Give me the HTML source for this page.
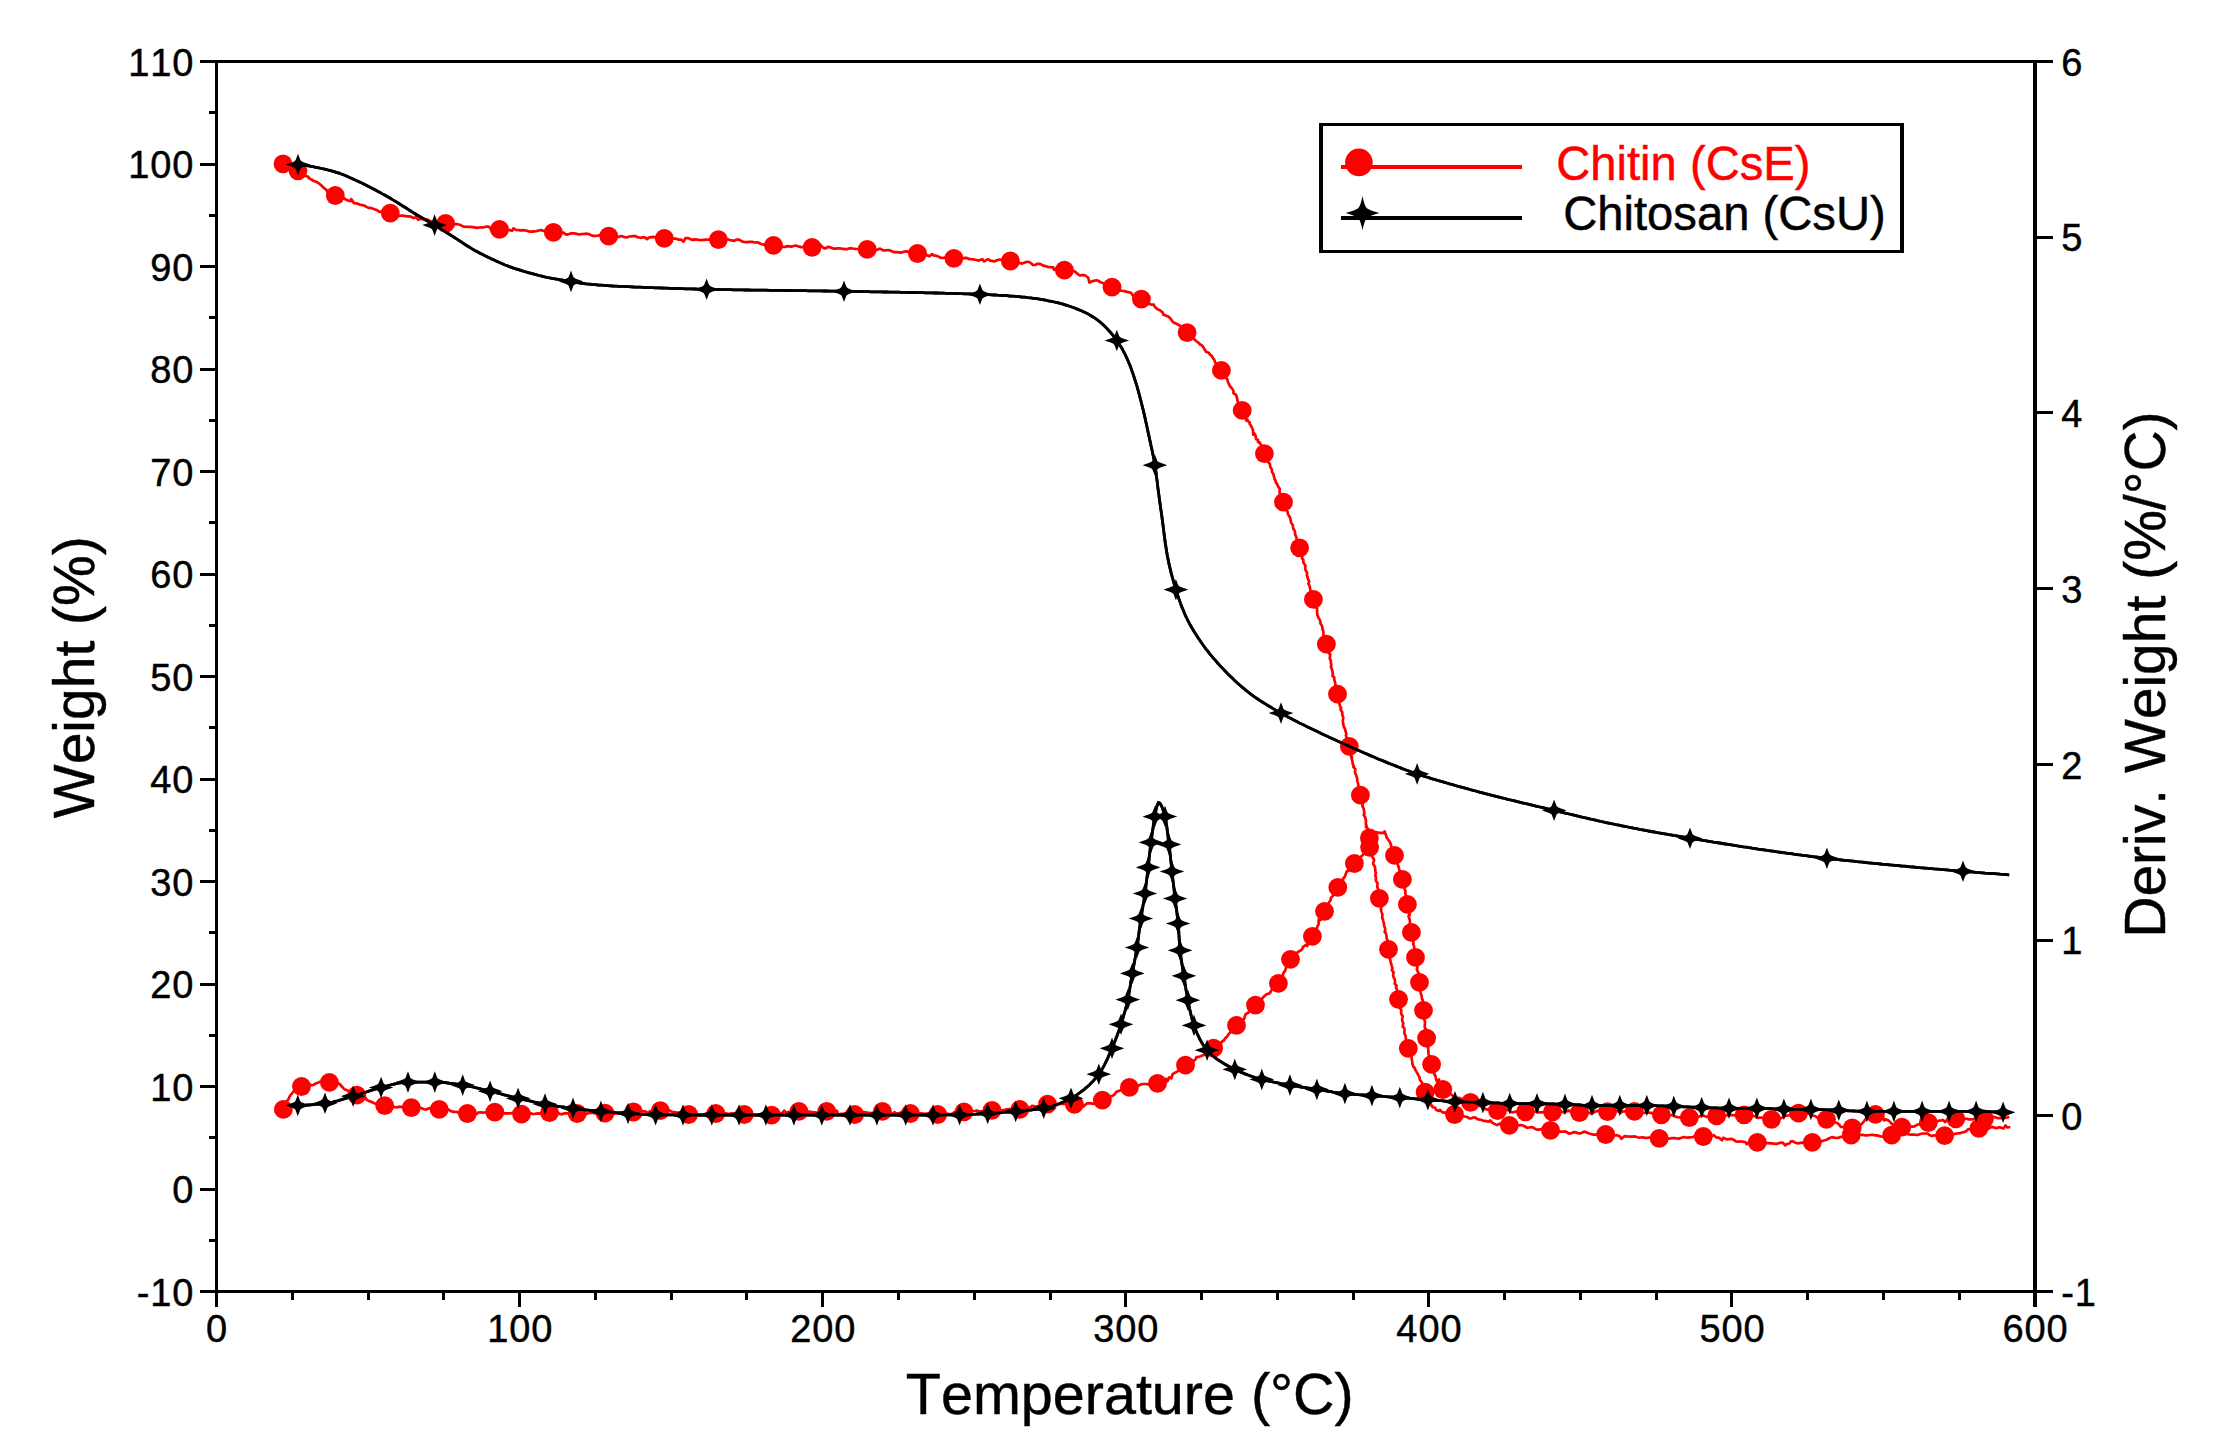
<!DOCTYPE html>
<html lang="en"><head><meta charset="utf-8"><title>TGA / DTG: Chitin and Chitosan</title>
<style>html,body{margin:0;padding:0;background:#fff}svg{display:block}text{font-family:"Liberation Sans",Arial,Helvetica,sans-serif;fill:#000;stroke:#000;stroke-width:0.45px;font-kerning:none}.tk{font-size:38px;letter-spacing:0.9px}.ti{font-size:57px}.lg{font-size:47.2px}</style></head><body>
<svg width="2222" height="1451" viewBox="0 0 2222 1451">
<rect width="2222" height="1451" fill="#fff"/>
<defs>
<path id="st" d="M0-10.8L1.4-7 2.5-4.2 3.9-3.1 6.2-2.1 9.2-1.1 12.3 0 9.2 1.1 6.2 2.1 3.9 3.1 2.5 4.2 1.4 7 0 10.8-1.4 7-2.5 4.2-3.9 3.1-6.2 2.1-9.2 1.1-12.3 0-9.2-1.1-6.2-2.1-3.9-3.1-2.5-4.2-1.4-7Z"/>
</defs>
<g fill="none" stroke-linejoin="round" stroke-linecap="butt">
<path d="M298.0 164.5L301.0 164.9L304.0 165.3L306.9 165.7L309.9 166.2L312.9 166.7L315.8 167.3L318.8 167.9L321.7 168.5L324.6 169.1L327.6 169.9L330.5 170.6L333.4 171.4L336.3 172.3L339.1 173.2L341.9 174.2L344.7 175.3L347.5 176.5L350.2 177.7L353.0 179.0L355.7 180.2L358.4 181.5L361.2 182.8L363.9 184.1L366.6 185.4L369.2 186.8L371.9 188.2L374.6 189.6L377.2 191.0L379.9 192.4L382.5 193.9L385.1 195.3L387.7 196.8L390.3 198.3L392.9 199.9L395.5 201.4L398.1 203.0L400.6 204.6L403.1 206.2L405.7 207.8L408.2 209.4L410.7 211.0L413.3 212.6L415.8 214.2L418.4 215.7L421.0 217.2L423.6 218.7L426.2 220.2L428.9 221.7L431.4 223.2L434.0 224.8L436.6 226.3L439.2 227.9L441.7 229.5L444.3 231.1L446.8 232.7L449.3 234.3L451.9 235.9L454.4 237.5L457.0 239.1L459.5 240.8L462.0 242.4L464.5 244.1L467.0 245.7L469.6 247.3L472.1 248.9L474.7 250.4L477.4 251.8L480.0 253.2L482.7 254.6L485.4 256.0L488.1 257.3L490.8 258.6L493.5 259.8L496.2 261.1L499.0 262.3L501.8 263.5L504.5 264.7L507.3 265.8L510.1 266.9L512.9 267.9L515.8 268.8L518.6 269.7L521.5 270.6L524.4 271.5L527.3 272.3L530.2 273.1L533.1 273.9L536.0 274.7L538.9 275.5L541.8 276.2L544.7 276.9L547.7 277.5L550.6 278.1L553.6 278.7L556.5 279.2L559.5 279.7L562.5 280.2L565.4 280.7L568.4 281.2L571.4 281.7L574.3 282.1L577.3 282.6L580.3 283.1L583.3 283.5L586.2 283.9L589.2 284.2L592.2 284.5L595.2 284.7L598.2 285.0L601.2 285.2L604.2 285.4L607.2 285.6L610.2 285.8L613.2 286.0L616.2 286.1L619.2 286.3L622.2 286.4L625.2 286.6L628.2 286.7L631.2 286.8L634.2 287.0L637.2 287.1L640.2 287.2L643.2 287.4L646.2 287.5L649.2 287.6L652.2 287.7L655.2 287.8L658.2 287.9L661.2 288.0L664.2 288.1L667.2 288.2L670.2 288.3L673.2 288.4L676.2 288.5L679.2 288.6L682.3 288.7L685.3 288.8L688.3 288.9L691.3 288.9L694.3 289.0L697.3 289.1L700.3 289.2L703.3 289.2L706.3 289.3L709.3 289.4L712.3 289.4L715.3 289.5L718.3 289.5L721.3 289.6L724.3 289.6L727.3 289.7L730.3 289.7L733.3 289.8L736.3 289.8L739.3 289.9L742.3 289.9L745.3 290.0L748.3 290.0L751.4 290.1L754.4 290.1L757.4 290.1L760.4 290.2L763.4 290.2L766.4 290.2L769.4 290.3L772.4 290.3L775.4 290.4L778.4 290.4L781.4 290.4L784.4 290.5L787.4 290.5L790.4 290.5L793.4 290.6L796.4 290.6L799.4 290.7L802.4 290.7L805.4 290.7L808.4 290.8L811.4 290.8L814.5 290.8L817.5 290.9L820.5 290.9L823.5 291.0L826.5 291.0L829.5 291.1L832.5 291.1L835.5 291.2L838.5 291.2L841.5 291.3L844.5 291.3L847.5 291.4L850.5 291.4L853.5 291.5L856.5 291.5L859.5 291.6L862.5 291.6L865.5 291.7L868.5 291.7L871.5 291.8L874.6 291.8L877.6 291.9L880.6 291.9L883.6 292.0L886.6 292.0L889.6 292.1L892.6 292.1L895.6 292.2L898.6 292.2L901.6 292.3L904.6 292.3L907.6 292.4L910.6 292.5L913.6 292.5L916.6 292.6L919.6 292.6L922.6 292.7L925.6 292.8L928.6 292.8L931.6 292.9L934.7 293.0L937.7 293.0L940.7 293.1L943.7 293.2L946.7 293.3L949.7 293.4L952.7 293.4L955.7 293.5L958.7 293.6L961.7 293.7L964.7 293.8L967.7 293.9L970.7 294.0L973.7 294.1L976.7 294.2L979.7 294.3L982.7 294.4L985.7 294.5L988.7 294.7L991.7 294.8L994.7 295.0L997.7 295.2L1000.7 295.3L1003.7 295.5L1006.7 295.7L1009.7 296.0L1012.7 296.2L1015.7 296.4L1018.7 296.7L1021.7 297.0L1024.7 297.2L1027.7 297.6L1030.6 297.9L1033.6 298.3L1036.6 298.7L1039.6 299.2L1042.6 299.7L1045.5 300.2L1048.5 300.8L1051.4 301.3L1054.3 302.0L1057.3 302.7L1060.2 303.4L1063.1 304.2L1066.0 305.1L1068.9 306.0L1071.7 307.0L1074.6 308.0L1077.3 309.1L1080.1 310.2L1082.9 311.4L1085.6 312.7L1088.3 314.1L1091.0 315.7L1093.5 317.2L1096.0 318.9L1098.3 320.6L1100.6 322.5L1102.9 324.5L1105.0 326.6L1107.2 328.8L1109.2 331.0L1111.3 333.3L1113.2 335.7L1115.0 338.1L1116.8 340.5L1118.5 342.9L1120.1 345.4L1121.7 348.0L1123.1 350.7L1124.6 353.4L1125.9 356.1L1127.2 358.8L1128.3 361.5L1129.5 364.3L1130.6 367.1L1131.6 369.9L1132.6 372.8L1133.6 375.6L1134.5 378.5L1135.4 381.3L1136.3 384.2L1137.2 387.1L1138.0 390.0L1138.8 392.9L1139.6 395.8L1140.3 398.7L1141.1 401.6L1141.8 404.5L1142.5 407.4L1143.3 410.4L1144.0 413.3L1144.6 416.2L1145.3 419.1L1145.9 422.1L1146.6 425.0L1147.2 428.0L1147.8 430.9L1148.5 433.8L1149.1 436.8L1149.7 439.7L1150.4 442.6L1151.0 445.6L1151.7 448.5L1152.3 451.5L1152.9 454.4L1153.5 457.3L1154.1 460.3L1154.6 463.3L1155.1 466.2L1155.5 469.2L1156.0 472.2L1156.4 475.1L1156.7 478.1L1157.1 481.1L1157.5 484.1L1157.8 487.1L1158.2 490.0L1158.6 493.0L1159.0 496.0L1159.4 499.0L1159.8 502.0L1160.2 504.9L1160.6 507.9L1161.1 510.9L1161.5 513.9L1161.9 516.8L1162.3 519.8L1162.7 522.8L1163.1 525.8L1163.5 528.8L1163.8 531.7L1164.2 534.7L1164.6 537.7L1165.0 540.7L1165.4 543.7L1165.9 546.6L1166.3 549.6L1166.8 552.6L1167.3 555.5L1167.9 558.5L1168.5 561.4L1169.1 564.4L1169.8 567.3L1170.5 570.2L1171.2 573.1L1172.0 576.1L1172.8 579.0L1173.6 581.9L1174.4 584.7L1175.3 587.6L1176.1 590.5L1177.0 593.3L1178.0 596.2L1179.0 599.1L1180.0 601.9L1181.0 604.7L1182.1 607.6L1183.3 610.3L1184.4 613.1L1185.6 615.8L1186.9 618.5L1188.2 621.2L1189.6 623.9L1191.1 626.5L1192.6 629.1L1194.2 631.7L1195.8 634.3L1197.4 636.8L1199.1 639.3L1200.8 641.8L1202.5 644.2L1204.3 646.7L1206.0 649.1L1207.9 651.4L1209.7 653.8L1211.7 656.1L1213.6 658.4L1215.6 660.7L1217.6 663.0L1219.6 665.2L1221.7 667.4L1223.7 669.6L1225.8 671.7L1227.9 673.9L1230.0 676.0L1232.2 678.1L1234.4 680.2L1236.6 682.2L1238.8 684.3L1241.1 686.3L1243.4 688.2L1245.7 690.1L1248.1 692.0L1250.4 693.8L1252.8 695.6L1255.2 697.3L1257.7 699.0L1260.2 700.7L1262.7 702.3L1265.3 703.9L1267.9 705.5L1270.5 707.0L1273.1 708.6L1275.7 710.1L1278.3 711.6L1280.9 713.1L1283.5 714.5L1286.2 716.0L1288.8 717.4L1291.5 718.8L1294.1 720.2L1296.8 721.5L1299.5 722.9L1302.2 724.2L1304.9 725.6L1307.6 726.9L1310.3 728.2L1313.0 729.5L1315.7 730.8L1318.4 732.1L1321.1 733.4L1323.8 734.7L1326.6 736.0L1329.3 737.2L1332.0 738.5L1334.8 739.7L1337.5 741.0L1340.2 742.2L1343.0 743.5L1345.7 744.7L1348.5 745.9L1351.2 747.1L1353.9 748.4L1356.7 749.6L1359.4 750.8L1362.2 752.0L1364.9 753.2L1367.7 754.4L1370.4 755.6L1373.2 756.8L1376.0 758.0L1378.7 759.2L1381.5 760.3L1384.3 761.4L1387.1 762.6L1389.9 763.7L1392.7 764.8L1395.5 765.9L1398.3 767.0L1401.1 768.1L1403.9 769.2L1406.7 770.2L1409.5 771.3L1412.3 772.3L1415.2 773.3L1418.0 774.2L1420.9 775.1L1423.7 776.1L1426.6 777.0L1429.5 777.9L1432.3 778.8L1435.2 779.6L1438.1 780.5L1441.0 781.4L1443.8 782.2L1446.7 783.0L1449.6 783.9L1452.5 784.7L1455.4 785.5L1458.3 786.3L1461.2 787.1L1464.1 787.9L1467.0 788.7L1469.9 789.5L1472.8 790.3L1475.7 791.0L1478.6 791.8L1481.5 792.6L1484.4 793.4L1487.3 794.1L1490.2 794.9L1493.2 795.6L1496.1 796.4L1499.0 797.1L1501.9 797.8L1504.8 798.5L1507.7 799.3L1510.6 800.0L1513.6 800.7L1516.5 801.4L1519.4 802.1L1522.3 802.8L1525.3 803.5L1528.2 804.2L1531.1 804.9L1534.0 805.6L1536.9 806.3L1539.9 807.0L1542.8 807.7L1545.7 808.4L1548.6 809.1L1551.6 809.8L1554.5 810.5L1557.4 811.2L1560.3 811.9L1563.3 812.6L1566.2 813.3L1569.1 814.0L1572.0 814.7L1575.0 815.4L1577.9 816.1L1580.8 816.8L1583.7 817.5L1586.6 818.2L1589.6 818.9L1592.5 819.5L1595.4 820.2L1598.4 820.9L1601.3 821.5L1604.2 822.2L1607.2 822.8L1610.1 823.4L1613.0 824.0L1616.0 824.7L1618.9 825.2L1621.9 825.8L1624.8 826.4L1627.8 827.0L1630.7 827.6L1633.7 828.2L1636.6 828.7L1639.6 829.3L1642.5 829.8L1645.5 830.4L1648.4 831.0L1651.4 831.5L1654.3 832.0L1657.3 832.6L1660.3 833.1L1663.2 833.6L1666.2 834.1L1669.1 834.7L1672.1 835.2L1675.1 835.7L1678.0 836.2L1681.0 836.7L1684.0 837.2L1686.9 837.7L1689.9 838.2L1692.8 838.7L1695.8 839.2L1698.8 839.6L1701.7 840.1L1704.7 840.6L1707.7 841.1L1710.6 841.6L1713.6 842.1L1716.6 842.5L1719.5 843.0L1722.5 843.5L1725.5 844.0L1728.4 844.4L1731.4 844.9L1734.4 845.4L1737.4 845.9L1740.3 846.3L1743.3 846.8L1746.3 847.2L1749.2 847.7L1752.2 848.2L1755.2 848.6L1758.2 849.1L1761.1 849.5L1764.1 849.9L1767.1 850.4L1770.1 850.8L1773.0 851.2L1776.0 851.7L1779.0 852.1L1782.0 852.5L1784.9 852.9L1787.9 853.3L1790.9 853.7L1793.9 854.2L1796.8 854.6L1799.8 854.9L1802.8 855.3L1805.8 855.7L1808.8 856.1L1811.7 856.5L1814.7 856.8L1817.7 857.2L1820.7 857.6L1823.7 857.9L1826.6 858.3L1829.6 858.6L1832.6 859.0L1835.6 859.3L1838.6 859.6L1841.6 860.0L1844.6 860.3L1847.5 860.6L1850.5 860.9L1853.5 861.2L1856.5 861.6L1859.5 861.9L1862.5 862.2L1865.5 862.5L1868.5 862.8L1871.4 863.1L1874.4 863.4L1877.4 863.7L1880.4 864.0L1883.4 864.3L1886.4 864.5L1889.4 864.8L1892.4 865.1L1895.4 865.4L1898.4 865.7L1901.4 866.0L1904.4 866.2L1907.4 866.5L1910.3 866.8L1913.3 867.0L1916.3 867.3L1919.3 867.6L1922.3 867.8L1925.3 868.1L1928.3 868.4L1931.3 868.6L1934.3 868.9L1937.3 869.1L1940.3 869.4L1943.3 869.6L1946.3 869.9L1949.3 870.2L1952.3 870.4L1955.3 870.7L1958.3 870.9L1961.3 871.2L1964.3 871.4L1967.2 871.6L1970.2 871.9L1973.2 872.1L1976.2 872.4L1979.2 872.6L1982.2 872.8L1985.2 873.1L1988.2 873.3L1991.2 873.5L1994.2 873.7L1997.2 873.9L2000.2 874.2L2003.2 874.4L2006.2 874.6L2009.2 874.8" stroke="#000" stroke-width="2.8"/>
<path d="M297.8 1105.4L300.3 1105.4L302.8 1105.3L305.4 1105.2L307.9 1105.0L310.4 1104.8L312.9 1104.6L315.4 1104.4L317.9 1104.1L320.3 1103.8L322.8 1103.6L325.3 1103.3L327.7 1102.9L330.2 1102.5L332.6 1102.0L335.1 1101.4L337.5 1100.8L339.9 1100.1L342.3 1099.4L344.8 1098.7L347.2 1097.9L349.6 1097.2L352.0 1096.5L354.4 1095.8L356.8 1095.1L359.2 1094.4L361.6 1093.6L364.0 1092.8L366.3 1092.0L368.7 1091.2L371.1 1090.4L373.5 1089.6L375.9 1088.9L378.3 1088.2L380.7 1087.6L383.1 1087.0L385.6 1086.3L388.0 1085.7L390.4 1085.0L392.9 1084.4L395.4 1083.8L397.8 1083.2L400.3 1082.8L402.8 1082.4L405.2 1082.2L407.7 1082.1L410.2 1082.1L412.7 1082.1L415.2 1082.1L417.7 1082.1L420.2 1082.1L422.7 1082.1L425.2 1082.1L427.7 1082.1L430.2 1082.1L432.8 1082.1L435.3 1082.1L437.8 1082.2L440.3 1082.3L442.8 1082.5L445.2 1082.7L447.7 1083.0L450.2 1083.3L452.7 1083.6L455.2 1084.0L457.7 1084.4L460.2 1084.7L462.7 1085.1L465.1 1085.5L467.6 1085.9L470.0 1086.4L472.5 1086.9L474.9 1087.5L477.4 1088.1L479.8 1088.7L482.2 1089.3L484.7 1089.9L487.1 1090.5L489.5 1091.1L492.0 1091.7L494.4 1092.3L496.8 1092.9L499.3 1093.5L501.7 1094.1L504.1 1094.8L506.5 1095.4L509.0 1096.0L511.4 1096.7L513.8 1097.3L516.3 1097.9L518.7 1098.4L521.1 1099.0L523.6 1099.6L526.0 1100.1L528.5 1100.7L530.9 1101.2L533.4 1101.8L535.8 1102.3L538.3 1102.8L540.7 1103.3L543.2 1103.8L545.6 1104.2L548.1 1104.6L550.6 1105.1L553.0 1105.5L555.5 1105.9L558.0 1106.3L560.5 1106.7L562.9 1107.0L565.4 1107.4L567.9 1107.7L570.4 1108.1L572.9 1108.4L575.4 1108.7L577.8 1109.0L580.3 1109.3L582.8 1109.6L585.3 1109.8L587.8 1110.1L590.3 1110.4L592.8 1110.6L595.3 1110.9L597.8 1111.1L600.3 1111.3L602.8 1111.6L605.3 1111.8L607.8 1112.0L610.2 1112.2L612.7 1112.4L615.2 1112.6L617.7 1112.8L620.2 1113.0L622.7 1113.2L625.2 1113.3L627.7 1113.5L630.2 1113.6L632.7 1113.8L635.2 1113.9L637.7 1114.0L640.2 1114.2L642.7 1114.3L645.2 1114.4L647.8 1114.5L650.3 1114.6L652.8 1114.6L655.3 1114.7L657.8 1114.7L660.3 1114.8L662.8 1114.8L665.3 1114.9L667.8 1114.9L670.3 1114.9L672.8 1114.9L675.3 1115.0L677.8 1115.0L680.3 1115.0L682.8 1115.0L685.3 1115.0L687.8 1115.0L690.3 1115.0L692.8 1115.0L695.3 1115.0L697.8 1115.0L700.4 1115.0L702.9 1115.0L705.4 1115.0L707.9 1115.0L710.4 1115.0L712.9 1115.0L715.4 1115.0L717.9 1115.0L720.4 1115.0L722.9 1115.0L725.4 1115.0L727.9 1115.0L730.4 1115.0L732.9 1115.0L735.4 1115.0L737.9 1115.0L740.4 1115.0L742.9 1115.0L745.4 1115.0L747.9 1115.0L750.5 1115.0L753.0 1115.0L755.5 1115.0L758.0 1115.0L760.5 1115.0L763.0 1115.0L765.5 1115.0L768.0 1115.0L770.5 1115.0L773.0 1115.0L775.5 1115.0L778.0 1115.0L780.5 1115.0L783.0 1115.0L785.5 1115.0L788.0 1115.0L790.5 1115.0L793.0 1115.0L795.5 1115.0L798.0 1115.0L800.5 1115.0L803.1 1115.0L805.6 1115.0L808.1 1115.0L810.6 1115.0L813.1 1115.0L815.6 1115.0L818.1 1115.0L820.6 1115.0L823.1 1115.0L825.6 1115.0L828.1 1115.0L830.6 1115.0L833.1 1115.0L835.6 1115.0L838.1 1115.0L840.6 1115.0L843.1 1115.0L845.6 1115.0L848.1 1115.0L850.6 1115.0L853.2 1115.0L855.7 1115.0L858.2 1115.0L860.7 1115.0L863.2 1115.0L865.7 1115.0L868.2 1115.0L870.7 1115.0L873.2 1115.0L875.7 1115.0L878.2 1115.0L880.7 1115.0L883.2 1115.0L885.7 1115.0L888.2 1115.0L890.7 1115.0L893.2 1115.0L895.7 1115.0L898.2 1115.0L900.7 1115.0L903.3 1115.0L905.8 1115.0L908.3 1115.0L910.8 1115.0L913.3 1115.0L915.8 1115.0L918.3 1115.0L920.8 1115.0L923.3 1115.0L925.8 1115.0L928.3 1115.0L930.8 1115.0L933.3 1115.0L935.8 1115.0L938.3 1115.0L940.8 1115.0L943.3 1115.0L945.8 1114.9L948.3 1114.9L950.8 1114.9L953.4 1114.9L955.9 1114.8L958.4 1114.8L960.9 1114.8L963.4 1114.7L965.9 1114.6L968.4 1114.6L970.9 1114.4L973.4 1114.3L975.9 1114.2L978.4 1114.0L980.9 1113.9L983.4 1113.8L985.9 1113.6L988.4 1113.5L990.9 1113.3L993.4 1113.2L995.9 1113.0L998.4 1112.8L1000.9 1112.6L1003.4 1112.4L1005.9 1112.2L1008.4 1112.0L1010.9 1111.8L1013.4 1111.6L1015.9 1111.4L1018.4 1111.2L1020.9 1110.9L1023.4 1110.7L1025.9 1110.5L1028.4 1110.2L1030.9 1110.0L1033.4 1109.7L1035.9 1109.4L1038.4 1109.0L1040.8 1108.7L1043.3 1108.3L1045.7 1107.8L1048.1 1107.3L1050.6 1106.6L1053.0 1105.9L1055.4 1105.1L1057.8 1104.2L1060.2 1103.3L1062.6 1102.3L1064.9 1101.3L1067.1 1100.2L1069.3 1099.2L1071.5 1098.1L1073.6 1096.9L1075.7 1095.6L1077.8 1094.2L1079.9 1092.7L1081.9 1091.2L1084.0 1089.6L1085.9 1087.9L1087.9 1086.2L1089.8 1084.4L1091.6 1082.6L1093.4 1080.7L1095.0 1078.9L1096.6 1077.0L1098.1 1075.1L1099.5 1073.2L1100.9 1071.2L1102.2 1069.1L1103.4 1066.9L1104.6 1064.7L1105.7 1062.4L1106.8 1060.1L1107.9 1057.8L1108.9 1055.4L1109.9 1053.1L1110.9 1050.8L1111.9 1048.5L1112.9 1046.2L1113.9 1043.9L1114.8 1041.5L1115.7 1039.2L1116.6 1036.9L1117.5 1034.5L1118.4 1032.1L1119.2 1029.8L1120.0 1027.4L1120.8 1025.0L1121.5 1022.6L1122.3 1020.2L1123.0 1017.9L1123.7 1015.4L1124.4 1013.0L1125.1 1010.6L1125.7 1008.2L1126.4 1005.8L1127.0 1003.3L1127.5 1000.9L1128.0 998.5L1128.5 996.0L1129.0 993.5L1129.4 991.1L1129.8 988.6L1130.2 986.1L1130.6 983.7L1131.0 981.2L1131.4 978.7L1131.8 976.2L1132.2 973.8L1132.7 971.3L1133.1 968.8L1133.6 966.4L1134.1 963.9L1134.5 961.4L1135.0 959.0L1135.5 956.5L1135.9 954.0L1136.3 951.6L1136.7 949.1L1137.1 946.6L1137.5 944.2L1137.8 941.7L1138.2 939.2L1138.5 936.7L1138.8 934.2L1139.1 931.7L1139.4 929.3L1139.8 926.8L1140.1 924.3L1140.4 921.8L1140.8 919.3L1141.2 916.8L1141.5 914.4L1142.0 911.9L1142.4 909.4L1142.8 907.0L1143.2 904.5L1143.7 902.0L1144.1 899.6L1144.5 897.1L1144.8 894.6L1145.2 892.1L1145.5 889.6L1145.8 887.2L1146.1 884.7L1146.4 882.2L1146.7 879.7L1147.0 877.2L1147.3 874.7L1147.5 872.2L1147.8 869.7L1148.1 867.2L1148.4 864.8L1148.7 862.3L1149.0 859.8L1149.2 857.3L1149.5 854.8L1149.8 852.3L1150.1 849.8L1150.4 847.3L1150.7 844.8L1151.0 842.4L1151.3 839.9L1151.7 837.4L1152.0 834.9L1152.3 832.4L1152.7 830.0L1153.1 827.5L1153.4 825.0L1153.8 822.5L1154.2 820.0L1154.6 817.6L1155.1 815.1L1155.5 812.6L1156.0 810.1L1156.5 807.7L1157.2 805.3L1158.4 802.6L1159.9 803.1L1161.3 805.5L1162.3 807.8L1163.2 810.2L1164.0 812.6L1164.7 815.0L1165.2 817.5L1165.7 819.9L1166.1 822.3L1166.5 824.8L1166.9 827.3L1167.2 829.8L1167.5 832.3L1167.9 834.8L1168.1 837.3L1168.4 839.8L1168.7 842.3L1169.0 844.8L1169.3 847.2L1169.6 849.7L1169.9 852.2L1170.2 854.7L1170.5 857.2L1170.7 859.7L1171.0 862.2L1171.3 864.7L1171.5 867.2L1171.8 869.7L1172.1 872.1L1172.4 874.6L1172.6 877.1L1172.9 879.6L1173.2 882.1L1173.5 884.6L1173.8 887.1L1174.1 889.6L1174.3 892.1L1174.6 894.5L1174.9 897.0L1175.2 899.5L1175.5 902.0L1175.8 904.5L1176.2 907.0L1176.5 909.5L1176.8 911.9L1177.1 914.4L1177.4 916.9L1177.7 919.4L1177.9 921.9L1178.2 924.4L1178.4 926.9L1178.6 929.4L1178.8 931.9L1178.9 934.4L1179.1 936.9L1179.2 939.4L1179.4 941.9L1179.6 944.4L1179.8 946.9L1180.0 949.4L1180.3 951.9L1180.6 954.3L1180.9 956.8L1181.2 959.3L1181.6 961.8L1182.0 964.3L1182.4 966.7L1182.8 969.2L1183.2 971.7L1183.6 974.2L1184.0 976.6L1184.4 979.1L1184.8 981.6L1185.2 984.1L1185.6 986.5L1185.9 989.0L1186.3 991.5L1186.8 994.0L1187.2 996.4L1187.6 998.9L1188.1 1001.3L1188.6 1003.8L1189.1 1006.3L1189.6 1008.8L1190.2 1011.2L1190.7 1013.7L1191.3 1016.1L1191.9 1018.6L1192.6 1021.0L1193.3 1023.3L1194.1 1025.7L1194.9 1028.0L1195.8 1030.4L1196.8 1032.8L1197.9 1035.1L1199.0 1037.5L1200.2 1039.8L1201.4 1042.0L1202.8 1044.2L1204.1 1046.3L1205.5 1048.2L1207.0 1050.1L1208.5 1051.8L1210.2 1053.5L1212.0 1055.1L1213.9 1056.7L1215.9 1058.3L1218.0 1059.8L1220.2 1061.2L1222.4 1062.6L1224.6 1064.0L1226.9 1065.3L1229.1 1066.5L1231.4 1067.7L1233.6 1068.8L1235.8 1069.9L1238.1 1070.9L1240.3 1072.0L1242.6 1072.9L1245.0 1073.9L1247.3 1074.8L1249.7 1075.7L1252.1 1076.5L1254.5 1077.3L1256.9 1078.0L1259.3 1078.7L1261.7 1079.4L1264.1 1080.0L1266.6 1080.6L1269.0 1081.1L1271.4 1081.7L1273.9 1082.2L1276.4 1082.6L1278.8 1083.1L1281.3 1083.6L1283.8 1084.0L1286.3 1084.5L1288.7 1084.9L1291.2 1085.3L1293.7 1085.8L1296.1 1086.2L1298.6 1086.6L1301.1 1087.0L1303.5 1087.4L1306.0 1087.7L1308.5 1088.1L1311.0 1088.5L1313.5 1088.9L1315.9 1089.3L1318.4 1089.6L1320.9 1090.0L1323.4 1090.4L1325.8 1090.9L1328.3 1091.3L1330.8 1091.7L1333.3 1092.1L1335.7 1092.4L1338.2 1092.8L1340.7 1093.1L1343.2 1093.4L1345.7 1093.7L1348.2 1093.9L1350.6 1094.1L1353.1 1094.3L1355.6 1094.5L1358.1 1094.7L1360.6 1094.8L1363.1 1095.0L1365.6 1095.2L1368.1 1095.3L1370.6 1095.5L1373.1 1095.7L1375.6 1095.9L1378.1 1096.1L1380.6 1096.2L1383.1 1096.4L1385.6 1096.6L1388.1 1096.8L1390.6 1096.9L1393.1 1097.1L1395.6 1097.3L1398.1 1097.5L1400.6 1097.7L1403.1 1097.8L1405.6 1098.0L1408.1 1098.2L1410.6 1098.4L1413.1 1098.6L1415.6 1098.8L1418.1 1099.0L1420.6 1099.2L1423.1 1099.3L1425.6 1099.5L1428.1 1099.7L1430.6 1099.9L1433.1 1100.1L1435.6 1100.3L1438.1 1100.5L1440.6 1100.7L1443.1 1100.9L1445.6 1101.1L1448.1 1101.3L1450.6 1101.5L1453.1 1101.6L1455.6 1101.7L1458.1 1101.8L1460.6 1101.9L1463.1 1102.0L1465.6 1102.1L1468.1 1102.2L1470.6 1102.2L1473.1 1102.3L1475.6 1102.4L1478.1 1102.5L1480.6 1102.5L1483.1 1102.6L1485.6 1102.7L1488.1 1102.8L1490.6 1102.9L1493.1 1103.0L1495.6 1103.1L1498.1 1103.2L1500.7 1103.3L1503.2 1103.4L1505.7 1103.4L1508.2 1103.5L1510.7 1103.5L1513.2 1103.5L1515.7 1103.6L1518.2 1103.6L1520.7 1103.6L1523.2 1103.6L1525.7 1103.6L1528.2 1103.6L1530.7 1103.6L1533.2 1103.7L1535.7 1103.7L1538.2 1103.7L1540.7 1103.8L1543.2 1103.8L1545.7 1103.9L1548.2 1103.9L1550.7 1104.0L1553.2 1104.0L1555.7 1104.1L1558.3 1104.2L1560.8 1104.3L1563.3 1104.3L1565.8 1104.4L1568.3 1104.5L1570.8 1104.6L1573.3 1104.8L1575.8 1104.9L1578.3 1105.0L1580.8 1105.2L1583.3 1105.3L1585.8 1105.4L1588.3 1105.5L1590.8 1105.5L1593.3 1105.5L1595.8 1105.5L1598.3 1105.5L1600.8 1105.5L1603.3 1105.5L1605.8 1105.5L1608.3 1105.5L1610.8 1105.5L1613.3 1105.5L1615.8 1105.5L1618.3 1105.5L1620.9 1105.5L1623.4 1105.5L1625.9 1105.5L1628.4 1105.5L1630.9 1105.5L1633.4 1105.5L1635.9 1105.5L1638.4 1105.5L1640.9 1105.5L1643.4 1105.5L1645.9 1105.5L1648.4 1105.5L1650.9 1105.5L1653.4 1105.6L1655.9 1105.7L1658.4 1105.8L1660.9 1105.9L1663.4 1106.0L1665.9 1106.1L1668.4 1106.2L1670.9 1106.3L1673.4 1106.4L1675.9 1106.5L1678.4 1106.6L1681.0 1106.7L1683.5 1106.8L1686.0 1106.9L1688.5 1107.0L1691.0 1107.1L1693.5 1107.2L1696.0 1107.3L1698.5 1107.4L1701.0 1107.5L1703.5 1107.6L1706.0 1107.7L1708.5 1107.8L1711.0 1107.9L1713.5 1107.9L1716.0 1108.0L1718.5 1108.1L1721.0 1108.2L1723.5 1108.2L1726.0 1108.3L1728.5 1108.3L1731.0 1108.3L1733.5 1108.3L1736.0 1108.3L1738.5 1108.3L1741.0 1108.3L1743.5 1108.3L1746.1 1108.3L1748.6 1108.3L1751.1 1108.3L1753.6 1108.3L1756.1 1108.3L1758.6 1108.3L1761.1 1108.4L1763.6 1108.4L1766.1 1108.5L1768.6 1108.6L1771.1 1108.7L1773.6 1108.9L1776.1 1109.0L1778.6 1109.1L1781.1 1109.1L1783.6 1109.2L1786.1 1109.2L1788.6 1109.2L1791.1 1109.3L1793.6 1109.3L1796.1 1109.3L1798.6 1109.3L1801.1 1109.3L1803.6 1109.3L1806.2 1109.4L1808.7 1109.4L1811.2 1109.4L1813.7 1109.4L1816.2 1109.5L1818.7 1109.6L1821.2 1109.6L1823.7 1109.7L1826.2 1109.8L1828.7 1109.9L1831.2 1110.0L1833.7 1110.1L1836.2 1110.2L1838.7 1110.3L1841.2 1110.4L1843.7 1110.5L1846.2 1110.6L1848.7 1110.8L1851.2 1110.9L1853.7 1111.0L1856.2 1111.1L1858.7 1111.2L1861.2 1111.3L1863.7 1111.4L1866.2 1111.4L1868.7 1111.4L1871.2 1111.4L1873.7 1111.4L1876.3 1111.4L1878.8 1111.4L1881.3 1111.4L1883.8 1111.4L1886.3 1111.4L1888.8 1111.4L1891.3 1111.4L1893.8 1111.4L1896.3 1111.4L1898.8 1111.4L1901.3 1111.4L1903.8 1111.4L1906.3 1111.4L1908.8 1111.4L1911.3 1111.4L1913.8 1111.4L1916.3 1111.4L1918.8 1111.4L1921.3 1111.4L1923.9 1111.4L1926.4 1111.4L1928.9 1111.4L1931.4 1111.4L1933.9 1111.4L1936.4 1111.4L1938.9 1111.4L1941.4 1111.4L1943.9 1111.4L1946.4 1111.4L1948.9 1111.4L1951.4 1111.4L1953.9 1111.4L1956.4 1111.4L1958.9 1111.4L1961.4 1111.4L1963.9 1111.4L1966.4 1111.4L1968.9 1111.4L1971.4 1111.4L1973.9 1111.4L1976.5 1111.4L1979.0 1111.4L1981.5 1111.5L1984.0 1111.5L1986.5 1111.6L1989.0 1111.7L1991.5 1111.8L1994.0 1111.9L1996.5 1112.0L1999.0 1112.1L2001.5 1112.2L2004.0 1112.3L2006.5 1112.4L2009.0 1112.5" stroke="#000" stroke-width="2.8"/>
<path d="M282.3 163.9L284.7 164.8L286.1 165.2L289.4 165.6L290.8 166.4L293.3 167.5L295.9 169.4L297.5 171.0L298.4 171.2L301.2 172.0L303.2 173.8L304.2 175.2L306.0 175.9L308.2 176.7L309.3 178.5L312.5 180.0L312.5 180.5L314.9 181.3L317.0 182.2L318.8 183.3L320.8 185.0L322.7 186.8L324.3 188.4L326.7 190.2L327.1 191.7L329.9 191.8L331.5 191.9L333.8 193.6L335.7 195.5L337.2 196.1L339.3 196.2L341.9 197.1L343.8 197.9L345.3 199.3L348.6 200.7L350.8 201.1L351.2 199.0L354.0 203.2L357.1 203.4L358.5 204.0L360.3 204.9L362.3 205.2L364.2 205.5L366.5 206.9L368.5 207.9L371.2 207.8L372.9 208.8L375.0 209.4L376.8 210.1L379.5 211.8L381.2 211.7L383.7 211.0L386.4 211.9L388.2 212.9L390.4 213.4L392.5 213.9L394.5 214.5L396.6 215.4L398.6 216.0L401.3 215.6L402.6 215.7L405.8 216.2L407.4 216.4L409.2 216.4L411.5 216.9L413.6 218.1L416.1 216.9L417.9 219.6L420.9 218.6L422.2 219.0L423.7 219.6L426.6 219.3L428.2 219.9L431.2 221.4L433.9 222.6L435.9 222.7L437.2 222.2L439.6 222.2L443.0 223.1L444.5 224.0L446.5 223.6L449.2 223.6L452.0 224.2L453.6 224.4L455.3 224.2L457.6 224.2L459.9 224.8L461.5 225.6L463.5 226.6L466.2 226.9L467.9 226.8L470.5 226.9L472.8 227.2L476.0 227.7L476.7 227.9L479.2 227.5L481.4 227.3L483.9 227.3L486.3 226.6L487.8 226.5L489.9 227.5L491.7 231.1L494.2 229.6L497.1 230.4L499.1 229.4L500.8 228.9L503.3 229.8L505.6 230.2L508.0 229.9L509.7 230.1L512.1 230.8L513.6 228.3L516.1 230.0L519.5 230.2L520.0 230.4L523.1 230.2L525.5 230.5L527.4 230.9L529.4 231.6L532.0 231.7L534.2 231.3L536.4 231.1L537.8 230.7L540.7 230.0L542.6 230.6L545.0 231.1L547.5 231.1L549.9 231.5L552.2 231.7L553.8 232.1L556.6 232.5L558.9 233.0L561.1 232.7L563.4 232.5L564.9 233.9L567.1 234.6L569.8 233.8L571.0 233.4L573.9 233.3L575.7 233.6L578.0 234.3L579.6 234.3L582.2 234.0L584.8 233.8L587.4 233.7L589.6 234.3L591.3 235.4L593.5 235.8L595.4 235.9L598.1 235.6L600.0 235.1L602.6 235.1L605.4 235.4L606.7 234.1L608.3 235.8L610.8 235.5L612.7 235.1L615.0 236.0L618.3 237.1L620.1 236.4L621.5 236.0L624.6 237.2L627.1 237.5L628.6 236.5L630.6 236.4L633.0 236.2L635.5 236.2L637.8 237.3L640.3 237.8L642.5 237.4L644.7 237.4L647.0 239.2L648.9 237.6L650.1 237.3L652.9 236.9L655.3 237.4L657.2 238.5L660.0 238.5L661.6 238.3L663.5 238.3L666.8 238.0L668.7 238.2L670.7 238.7L673.2 238.6L675.5 238.5L677.3 239.0L678.3 239.7L681.3 239.7L683.6 241.7L685.5 238.2L688.3 238.1L690.9 239.4L692.4 239.9L694.3 239.4L697.9 239.6L699.0 240.0L700.9 240.2L703.7 239.9L706.0 239.7L707.7 239.7L710.6 239.3L712.2 239.7L714.2 240.4L716.9 240.9L719.4 241.6L720.9 240.9L723.6 241.3L725.6 238.8L729.1 239.8L729.7 240.0L732.8 240.6L734.3 240.9L736.5 239.6L739.1 239.5L741.3 241.1L743.7 242.0L745.4 242.1L747.2 242.2L749.4 241.8L752.1 241.8L754.3 242.5L756.9 242.4L758.6 242.7L761.1 244.0L763.5 244.7L765.1 244.6L766.5 246.4L768.8 244.0L770.9 244.1L774.5 244.6L775.6 245.1L778.7 245.4L780.6 245.9L783.3 246.9L785.2 247.0L786.9 246.2L789.1 246.4L791.4 246.6L793.6 246.0L795.5 245.5L797.9 246.2L800.9 247.1L801.6 247.1L804.7 246.9L806.4 247.3L809.1 247.8L811.5 246.9L813.3 245.7L815.9 245.6L817.0 245.0L820.5 244.7L821.9 246.7L824.7 248.5L826.7 247.9L827.6 246.9L830.6 247.4L833.3 248.6L836.1 248.6L837.7 248.3L839.9 248.3L841.3 248.6L844.8 249.2L847.2 249.2L848.6 248.6L850.7 248.2L852.3 248.5L855.6 248.9L858.6 249.0L859.9 248.5L862.4 248.6L864.2 248.8L865.7 249.0L869.0 250.6L870.0 250.9L872.7 250.1L875.1 250.3L877.6 249.6L879.6 248.6L881.8 249.6L883.4 250.5L885.4 250.3L888.2 250.0L890.0 250.4L892.0 251.3L894.2 252.2L896.7 252.1L898.3 252.3L900.7 252.7L902.8 252.1L905.8 251.3L908.1 251.7L911.0 253.5L911.6 254.4L914.2 254.3L917.1 254.2L918.8 254.0L920.9 254.0L924.0 254.0L925.3 254.3L927.1 255.3L929.2 256.3L932.1 254.2L934.3 255.7L935.7 255.5L938.1 256.4L940.9 257.8L943.1 258.0L944.8 257.5L947.5 257.1L949.7 257.0L950.8 258.0L953.7 258.7L956.2 258.4L957.9 258.2L959.4 258.5L962.5 258.3L965.1 257.9L967.7 258.1L968.2 258.8L972.6 259.3L973.1 259.3L976.2 260.0L978.6 260.6L980.7 259.7L982.5 259.2L984.1 261.5L987.1 259.5L988.7 259.4L990.1 260.6L994.7 261.4L996.0 260.6L998.7 259.7L999.6 259.7L1002.9 259.9L1005.2 259.5L1007.3 260.0L1008.8 261.1L1010.5 261.2L1013.1 264.4L1014.4 262.9L1016.8 262.5L1019.8 263.0L1021.5 263.6L1024.1 262.8L1026.3 261.9L1029.4 262.0L1031.3 263.5L1032.9 265.0L1035.6 264.9L1036.9 263.9L1039.3 263.9L1042.0 264.8L1043.2 265.7L1045.8 266.2L1047.5 266.8L1050.3 267.2L1053.2 267.4L1054.2 269.9L1056.8 268.5L1058.5 269.1L1060.5 270.3L1062.6 271.5L1065.9 271.4L1068.4 270.6L1069.7 270.5L1071.3 271.2L1074.0 271.1L1075.6 272.1L1078.2 274.4L1080.1 275.5L1082.1 275.1L1084.4 275.0L1085.9 276.0L1088.1 277.5L1089.5 282.6L1092.2 281.2L1093.8 280.9L1096.4 280.2L1098.1 280.8L1100.6 282.2L1102.9 283.0L1104.1 283.6L1106.4 284.5L1108.4 285.6L1111.2 287.5L1113.7 289.0L1115.4 289.2L1116.9 289.3L1119.8 290.0L1120.6 290.6L1124.0 291.0L1125.1 291.4L1126.2 291.6L1130.8 292.7L1132.3 294.6L1133.2 295.7L1135.7 296.7L1137.5 297.4L1139.6 297.1L1140.8 298.1L1143.1 300.1L1145.5 301.4L1147.3 302.5L1149.6 304.0L1151.0 304.6L1153.9 304.7L1154.3 306.2L1156.6 308.5L1157.5 309.3L1159.6 310.0L1162.6 312.4L1163.3 314.5L1165.8 315.6L1167.3 316.1L1168.6 316.7L1170.7 318.7L1172.3 321.4L1174.1 322.8L1176.4 323.7L1178.0 324.5L1179.1 325.2L1180.7 326.1L1182.9 328.2L1184.3 330.3L1186.5 331.5L1188.8 333.5L1189.6 334.8L1190.8 335.3L1192.4 336.7L1193.7 338.6L1195.3 340.2L1196.8 341.5L1198.7 342.9L1200.2 344.5L1202.3 345.7L1203.3 347.3L1205.0 350.0L1206.0 351.8L1208.8 352.7L1209.8 354.4L1211.8 356.0L1212.8 357.9L1214.5 360.2L1215.1 362.3L1216.8 364.2L1219.1 365.5L1218.6 367.0L1220.9 368.6L1222.4 370.3L1223.0 372.6L1224.3 374.6L1225.6 376.5L1225.8 377.9L1227.4 379.2L1227.8 381.5L1228.9 384.2L1229.9 386.2L1231.2 387.5L1232.3 388.9L1233.4 390.9L1233.5 393.3L1236.0 394.7L1236.6 396.3L1237.3 399.6L1237.8 402.0L1238.9 404.6L1240.2 404.4L1241.1 406.6L1241.1 408.9L1243.2 411.3L1245.3 413.0L1244.1 415.1L1246.4 420.6L1247.2 419.4L1248.0 421.2L1249.7 422.5L1249.6 423.7L1251.3 426.3L1252.9 429.8L1253.2 434.6L1254.1 433.2L1255.4 435.2L1256.1 439.3L1258.1 439.7L1257.9 441.9L1259.7 442.4L1259.7 443.2L1261.6 445.3L1262.2 447.9L1261.9 451.2L1264.1 453.3L1264.5 454.0L1265.6 455.5L1267.4 458.7L1267.1 460.8L1267.9 461.7L1269.9 464.0L1270.2 466.8L1271.6 469.0L1271.9 470.6L1272.1 472.1L1273.3 473.8L1274.7 479.4L1275.4 480.2L1275.7 482.2L1276.5 483.2L1277.2 484.2L1277.8 485.9L1279.7 488.8L1279.6 491.5L1279.8 493.7L1280.9 495.4L1282.2 497.1L1283.0 499.5L1283.4 502.4L1283.9 505.5L1285.0 507.7L1285.0 508.5L1285.9 509.7L1287.7 511.9L1287.8 513.8L1289.0 515.8L1290.2 517.9L1290.6 520.1L1291.1 522.7L1292.8 525.0L1292.9 526.9L1293.2 528.6L1294.4 530.2L1295.0 532.2L1295.1 534.5L1296.2 536.9L1296.8 539.3L1296.7 541.1L1298.2 542.7L1298.8 544.8L1299.4 546.7L1299.4 548.9L1300.7 550.9L1301.4 552.6L1302.1 555.6L1302.1 558.4L1303.5 560.2L1303.2 562.1L1304.3 564.0L1305.5 565.9L1305.1 568.2L1305.8 570.6L1307.1 572.7L1306.9 574.7L1307.5 577.3L1308.3 579.7L1309.2 581.5L1308.3 583.7L1309.4 585.7L1309.9 587.4L1310.4 590.1L1311.1 592.8L1311.7 594.9L1312.8 596.8L1312.8 598.4L1313.9 600.7L1314.6 603.5L1314.7 605.7L1315.7 607.0L1317.1 608.6L1317.1 611.7L1317.3 614.9L1318.2 616.8L1318.4 617.8L1319.6 619.3L1320.5 622.1L1320.4 623.5L1321.3 624.7L1322.5 627.3L1322.4 629.2L1323.3 631.1L1323.4 634.3L1324.1 637.3L1324.8 636.7L1326.6 641.7L1326.0 644.9L1326.4 646.9L1327.0 647.8L1327.7 649.0L1328.5 650.6L1328.8 653.2L1330.2 653.9L1329.8 658.6L1330.9 660.9L1330.8 662.9L1331.4 664.4L1330.9 666.7L1332.0 669.6L1332.5 672.1L1332.9 674.3L1332.5 675.9L1334.3 677.6L1334.2 679.5L1334.6 680.8L1335.2 682.8L1335.6 686.0L1336.4 688.6L1336.1 690.1L1336.7 691.5L1337.8 693.8L1338.2 696.2L1338.4 697.6L1338.8 699.4L1339.2 702.7L1340.0 706.1L1341.1 708.0L1340.5 709.6L1342.2 712.0L1342.4 713.7L1342.3 714.7L1343.3 717.6L1342.8 721.1L1343.2 723.9L1343.8 726.6L1344.7 728.4L1345.3 729.8L1345.7 731.9L1346.4 733.9L1345.9 735.5L1347.6 740.7L1347.2 741.1L1348.0 743.6L1348.6 744.7L1348.8 746.3L1349.2 749.0L1349.8 751.6L1350.8 753.7L1351.5 758.5L1352.0 756.9L1351.8 758.7L1352.4 761.4L1352.8 764.3L1353.9 766.1L1353.3 766.9L1355.3 769.0L1355.0 771.8L1355.3 773.4L1356.3 775.5L1357.2 778.9L1357.3 781.5L1358.1 783.2L1358.2 785.2L1359.2 787.6L1359.7 789.8L1359.5 791.8L1360.7 793.1L1360.6 795.0L1361.0 797.5L1361.0 799.9L1361.8 802.5L1362.8 804.4L1362.3 806.0L1363.6 808.3L1364.0 810.9L1364.4 813.2L1363.7 814.9L1365.2 817.2L1366.0 820.8L1365.8 824.1L1366.6 825.8L1365.9 826.7L1367.8 828.7L1367.6 831.2L1368.7 832.5L1367.9 833.9L1369.5 836.6L1369.5 838.9L1370.3 840.1L1369.9 841.4L1370.5 844.1L1372.1 847.2L1371.1 849.4L1371.5 851.6L1372.1 854.3L1372.1 856.6L1373.5 858.5L1374.1 860.5L1373.3 862.2L1373.2 864.1L1374.9 866.7L1375.2 869.7L1375.4 871.5L1375.9 873.0L1375.3 875.2L1376.0 877.9L1375.8 880.0L1376.1 881.2L1377.6 883.2L1377.2 886.9L1378.9 890.7L1378.2 892.4L1378.2 893.7L1379.3 896.5L1380.1 899.0L1379.9 900.1L1379.5 901.9L1380.6 904.9L1381.4 907.1L1380.9 908.8L1381.2 911.1L1382.4 914.4L1382.3 916.8L1382.2 918.2L1382.9 919.2L1383.1 920.5L1383.9 923.3L1384.2 926.0L1385.1 928.3L1385.3 930.5L1384.6 931.7L1385.9 933.3L1386.5 936.0L1386.7 938.3L1387.4 940.3L1387.1 942.5L1387.3 944.1L1388.6 946.2L1388.1 949.7L1388.0 952.7L1389.8 955.3L1389.5 957.7L1390.1 958.3L1390.0 958.9L1390.5 961.0L1391.0 963.5L1391.8 966.2L1392.5 968.3L1391.8 970.0L1393.6 972.4L1393.1 974.7L1393.6 977.3L1394.9 979.7L1395.0 981.7L1394.7 983.8L1396.7 985.7L1395.9 987.3L1396.9 989.3L1397.3 992.8L1398.3 996.8L1397.8 999.4L1398.9 1001.0L1398.6 1002.1L1399.8 1003.8L1399.4 1006.4L1400.0 1008.3L1401.4 1009.9L1401.1 1012.1L1401.4 1014.3L1402.7 1016.3L1402.3 1018.2L1402.1 1020.1L1403.2 1023.3L1402.7 1026.7L1404.2 1028.1L1404.7 1029.6L1404.3 1032.3L1404.7 1034.2L1405.5 1035.6L1405.9 1038.1L1405.9 1041.0L1407.1 1043.1L1406.4 1045.3L1407.7 1047.6L1408.3 1049.0L1408.9 1050.7L1409.8 1053.3L1409.8 1053.5L1411.3 1053.2L1411.6 1058.1L1412.1 1061.1L1412.5 1064.0L1413.4 1066.7L1414.9 1068.2L1415.1 1069.4L1416.4 1071.7L1417.7 1073.7L1418.5 1075.5L1419.6 1077.7L1419.6 1078.8L1420.2 1080.2L1422.0 1082.6L1422.6 1084.7L1423.8 1087.2L1424.2 1090.2L1425.7 1092.9L1426.4 1095.2L1427.2 1096.3L1428.0 1097.4L1428.9 1099.7L1429.7 1101.9L1430.8 1104.1L1432.2 1106.5L1432.8 1107.2L1435.2 1107.8L1436.0 1109.7L1438.4 1110.9L1440.0 1109.9L1442.1 1112.2L1445.5 1112.8L1446.8 1113.5L1448.7 1114.3L1451.3 1114.7L1453.7 1114.9L1457.0 1114.8L1458.2 1114.5L1460.7 1115.2L1462.0 1116.2L1464.7 1116.5L1467.0 1117.0L1469.7 1118.5L1470.7 1118.5L1473.5 1117.4L1475.5 1117.6L1477.0 1118.9L1479.7 1119.7L1481.7 1120.0L1482.9 1120.6L1486.4 1121.1L1488.6 1121.7L1490.3 1120.4L1492.1 1122.6L1495.5 1124.4L1497.1 1125.0L1499.6 1123.7L1502.0 1123.2L1503.3 1124.0L1506.1 1124.6L1507.8 1124.4L1510.0 1124.7L1512.2 1125.2L1514.4 1125.1L1517.1 1125.3L1518.8 1125.3L1520.9 1125.0L1523.0 1125.5L1525.5 1126.8L1527.1 1127.7L1529.5 1127.4L1531.9 1127.0L1533.8 1128.0L1536.2 1129.4L1538.2 1129.7L1541.6 1129.1L1543.4 1129.1L1545.2 1129.7L1547.2 1129.4L1550.4 1129.0L1551.7 1130.0L1553.7 1131.4L1556.1 1131.8L1558.3 1131.7L1561.0 1131.5L1562.6 1131.6L1565.7 1131.4L1566.6 1132.2L1569.5 1133.7L1570.9 1133.2L1574.4 1132.1L1575.6 1132.3L1577.9 1133.1L1580.6 1133.4L1582.9 1132.3L1584.0 1131.6L1586.6 1132.4L1588.3 1133.3L1591.2 1134.0L1593.3 1134.6L1595.4 1134.7L1597.4 1134.2L1599.7 1133.9L1601.8 1135.1L1604.5 1136.3L1607.2 1135.8L1607.8 1135.2L1610.8 1135.7L1612.9 1136.0L1615.5 1135.3L1617.0 1135.3L1619.6 1136.2L1621.4 1138.8L1624.4 1136.2L1626.3 1136.3L1628.4 1136.5L1630.8 1136.7L1632.7 1136.6L1634.3 1136.4L1637.5 1137.3L1639.6 1137.8L1641.6 1137.3L1644.3 1137.6L1646.6 1138.0L1647.7 1137.7L1650.1 1137.6L1653.3 1138.0L1655.5 1139.5L1656.7 1140.9L1658.7 1140.4L1661.1 1139.1L1663.4 1138.8L1665.1 1138.6L1668.0 1138.8L1669.6 1138.7L1671.9 1138.0L1675.0 1138.1L1676.5 1138.5L1679.0 1138.6L1681.5 1137.8L1683.8 1137.0L1685.5 1137.4L1687.9 1137.6L1689.7 1137.3L1693.0 1137.0L1694.7 1135.8L1696.1 1135.4L1698.8 1136.7L1701.4 1137.3L1703.4 1136.8L1706.3 1137.0L1708.2 1137.2L1709.6 1136.5L1712.0 1136.2L1713.6 1135.1L1716.5 1137.6L1718.6 1137.5L1722.0 1140.3L1723.0 1137.9L1724.2 1138.1L1727.0 1139.4L1729.6 1139.2L1731.1 1138.7L1733.5 1139.7L1735.9 1141.3L1738.4 1141.7L1740.4 1141.3L1742.2 1141.7L1745.2 1142.0L1746.8 1144.1L1749.0 1142.1L1750.8 1142.1L1753.2 1141.8L1756.1 1141.9L1757.2 1142.3L1760.1 1142.3L1762.7 1141.9L1764.4 1142.3L1766.9 1143.1L1768.5 1143.2L1771.8 1143.4L1773.9 1143.7L1775.7 1143.9L1777.0 1143.8L1779.5 1142.9L1782.7 1142.6L1785.2 1145.4L1786.8 1144.1L1789.4 1143.5L1790.8 1141.4L1793.2 1141.4L1795.5 1142.8L1797.9 1143.4L1799.2 1143.1L1802.5 1142.7L1804.9 1142.9L1805.9 1142.9L1808.0 1145.9L1811.0 1142.3L1812.7 1141.5L1814.1 1141.6L1817.7 1141.9L1819.6 1142.0L1821.5 1141.2L1824.8 1140.3L1826.1 1140.0L1827.8 1139.0L1830.4 1137.7L1832.0 1137.2L1834.3 1137.6L1837.0 1138.0L1838.7 1137.6L1840.9 1136.9L1844.1 1136.5L1845.9 1135.8L1848.0 1135.4L1850.0 1135.8L1852.2 1135.9L1854.8 1135.1L1856.4 1134.8L1859.4 1134.9L1860.3 1134.8L1862.8 1134.9L1864.5 1135.3L1867.2 1135.3L1869.8 1135.0L1872.4 1134.8L1873.7 1135.2L1876.2 1135.3L1878.2 1135.6L1880.3 1136.4L1882.3 1136.6L1885.1 1136.7L1886.4 1136.1L1889.5 1134.9L1891.7 1134.8L1893.5 1135.3L1895.6 1135.3L1897.6 1135.1L1901.3 1134.4L1902.1 1133.8L1905.6 1133.7L1907.4 1133.8L1909.1 1134.5L1911.0 1134.7L1914.2 1134.5L1916.7 1135.0L1917.7 1135.0L1920.2 1134.0L1923.0 1133.5L1924.9 1133.5L1927.9 1133.5L1928.9 1134.7L1931.6 1135.9L1933.0 1135.6L1936.7 1135.2L1937.6 1135.0L1939.1 1135.2L1942.3 1135.5L1944.4 1135.6L1947.5 1136.4L1948.7 1136.7L1951.0 1135.7L1953.4 1134.3L1956.0 1133.6L1957.4 1133.4L1960.1 1133.1L1962.0 1132.5L1963.7 1132.2L1966.1 1131.2L1968.2 1129.3L1969.9 1129.0L1973.0 1129.5L1974.0 1128.5L1977.3 1127.7L1979.4 1127.4L1981.1 1127.3L1983.0 1128.6L1985.4 1130.1L1987.9 1129.2L1990.2 1127.4L1992.2 1126.9L1994.8 1127.7L1996.3 1128.2L1998.8 1127.4L2000.2 1127.4L2003.5 1128.5L2005.4 1125.5L2007.4 1127.5L2010.3 1127.0" stroke="#f00" stroke-width="2.7"/>
<path d="M282.9 1110.6L285.3 1107.8L284.5 1104.5L286.5 1101.7L288.4 1099.3L289.3 1097.3L290.0 1095.8L291.8 1093.7L293.6 1091.3L295.2 1090.5L295.9 1090.0L298.1 1088.3L299.5 1087.2L301.5 1086.9L303.4 1085.7L304.5 1084.3L306.1 1084.1L309.0 1084.6L311.8 1085.1L313.6 1084.8L315.7 1083.5L319.0 1082.2L319.9 1081.8L323.0 1081.8L324.7 1081.5L327.2 1081.3L329.3 1082.0L332.0 1082.8L333.0 1083.0L335.2 1083.4L336.8 1083.3L339.6 1083.8L341.2 1085.8L343.5 1088.2L344.9 1089.4L347.1 1090.3L349.7 1091.6L351.1 1092.9L353.5 1094.4L355.4 1095.1L357.1 1095.5L358.6 1096.4L361.7 1096.7L363.4 1096.9L365.8 1098.0L366.5 1099.7L368.8 1100.9L370.6 1101.6L373.2 1102.8L376.1 1104.0L378.0 1104.0L379.8 1104.5L382.0 1106.1L384.4 1106.8L386.1 1105.9L388.5 1104.9L390.6 1105.5L391.8 1106.6L394.7 1107.2L397.7 1107.3L399.1 1106.7L401.5 1106.8L403.5 1107.4L405.8 1107.8L408.7 1108.1L410.3 1107.9L412.2 1107.2L413.5 1106.5L416.7 1106.7L418.4 1107.1L420.6 1107.8L423.9 1109.2L426.1 1109.7L427.2 1108.8L430.6 1108.2L432.6 1108.3L434.3 1109.0L437.1 1110.0L438.3 1110.2L440.7 1109.9L442.7 1109.2L445.1 1108.7L448.1 1109.3L449.3 1110.3L451.6 1111.4L453.8 1111.9L456.5 1111.8L458.4 1112.7L461.1 1113.6L462.7 1112.9L464.6 1112.5L467.1 1112.9L469.5 1112.9L471.3 1113.1L474.0 1114.0L476.9 1113.9L478.1 1112.5L480.5 1112.4L483.3 1112.7L484.6 1112.5L486.8 1112.2L488.9 1112.4L491.7 1112.6L493.9 1112.2L495.9 1112.0L498.1 1112.3L500.9 1112.4L502.9 1112.8L504.1 1113.3L506.9 1113.4L509.2 1113.3L511.6 1113.2L513.4 1112.8L515.4 1112.8L517.7 1113.2L519.4 1113.7L522.3 1113.4L524.3 1113.3L526.9 1111.8L528.5 1113.7L530.9 1113.3L532.9 1114.0L535.1 1113.8L538.0 1113.4L539.7 1113.6L542.3 1113.0L543.8 1113.1L546.5 1113.5L548.0 1112.6L550.7 1112.5L552.9 1115.7L555.6 1112.3L557.6 1112.5L559.6 1113.8L562.3 1114.3L564.2 1113.3L566.5 1113.1L568.8 1113.7L570.7 1113.3L572.8 1112.9L575.3 1113.4L577.2 1113.8L579.7 1114.1L582.2 1114.6L584.3 1114.5L586.0 1114.1L587.8 1113.4L590.5 1112.8L592.7 1113.0L595.4 1113.3L597.0 1113.1L599.3 1112.9L601.9 1114.8L603.6 1114.4L605.9 1114.7L608.9 1113.6L611.0 1113.0L612.8 1113.2L614.9 1113.6L616.6 1113.4L619.4 1112.7L621.4 1112.5L623.7 1112.2L625.6 1112.0L628.0 1112.1L630.1 1112.1L632.5 1112.2L635.2 1112.5L636.9 1112.5L638.3 1112.3L640.8 1111.9L642.7 1111.3L645.3 1111.3L648.0 1112.9L650.2 1111.0L652.0 1111.2L654.5 1110.7L656.3 1109.8L658.2 1109.7L660.4 1110.2L662.8 1110.4L666.0 1109.8L667.0 1109.5L670.3 1110.8L672.5 1112.1L674.0 1112.2L676.2 1112.4L678.2 1112.5L680.6 1112.4L683.1 1113.5L685.0 1114.6L687.6 1114.8L689.9 1114.9L691.7 1114.5L693.9 1114.2L695.9 1114.2L698.3 1114.9L699.9 1115.4L702.7 1114.8L704.9 1113.9L706.6 1113.2L710.1 1113.4L711.0 1113.9L713.2 1113.0L715.9 1112.6L717.2 1113.1L719.9 1113.9L721.8 1113.9L724.2 1113.0L726.8 1113.5L729.1 1114.1L731.7 1113.3L733.8 1113.5L736.1 1114.7L738.1 1115.1L739.8 1113.8L742.7 1113.5L744.2 1115.1L746.4 1115.7L749.5 1114.2L751.4 1113.7L753.3 1114.9L755.8 1115.5L758.0 1115.5L759.3 1115.1L762.0 1114.6L763.8 1115.1L766.5 1116.2L768.4 1115.7L771.4 1114.0L773.3 1114.4L774.9 1115.6L777.4 1114.6L779.1 1113.4L781.8 1113.5L784.2 1110.6L786.3 1112.8L787.5 1112.2L790.4 1111.8L792.9 1113.3L795.0 1111.4L797.6 1111.0L798.7 1110.9L801.7 1111.6L803.4 1112.3L805.9 1112.0L808.2 1111.6L810.6 1111.8L812.2 1112.1L814.8 1112.3L816.4 1112.6L818.5 1113.0L821.5 1112.7L823.5 1111.7L825.0 1111.4L827.5 1112.0L830.1 1112.1L832.9 1111.4L834.9 1110.5L837.0 1110.9L838.1 1115.1L841.0 1113.8L843.4 1113.7L845.6 1113.5L847.8 1114.1L849.7 1114.4L852.7 1114.6L854.8 1114.6L856.3 1113.9L858.1 1113.1L861.6 1112.4L862.7 1112.1L865.6 1112.3L868.1 1112.9L869.1 1113.2L871.8 1113.1L873.7 1112.4L876.3 1111.6L878.4 1111.5L881.3 1111.5L882.9 1111.7L884.8 1111.5L887.5 1111.0L889.1 1111.4L891.3 1114.6L894.6 1112.1L895.5 1113.2L897.8 1113.6L900.2 1112.9L902.0 1111.9L903.7 1114.1L907.3 1112.4L908.7 1110.8L911.0 1112.2L913.3 1113.4L915.2 1114.0L917.4 1113.5L920.1 1113.3L923.2 1113.6L924.7 1113.9L926.9 1113.5L928.2 1114.3L931.0 1115.5L932.7 1115.2L935.8 1114.7L937.5 1114.2L939.8 1113.7L942.0 1114.1L944.0 1114.1L945.8 1113.5L948.8 1113.9L950.2 1114.5L952.5 1113.6L955.0 1111.8L957.1 1110.9L959.7 1111.3L962.2 1112.3L964.0 1112.7L966.2 1112.0L968.3 1110.9L970.9 1110.5L972.0 1111.0L975.1 1111.0L976.7 1110.6L978.8 1111.0L981.5 1111.3L983.6 1110.8L986.2 1109.5L988.6 1108.9L989.4 1109.7L992.5 1110.3L995.6 1110.1L997.3 1109.7L999.8 1109.8L1001.4 1110.3L1003.0 1110.2L1005.3 1109.7L1008.3 1109.2L1010.6 1109.2L1012.1 1109.4L1014.5 1108.7L1016.9 1108.4L1018.2 1109.2L1021.0 1110.0L1024.0 1109.9L1026.4 1109.5L1027.6 1108.4L1030.6 1107.0L1031.8 1105.9L1033.8 1106.1L1035.4 1106.7L1038.9 1106.2L1040.5 1105.7L1043.8 1103.3L1045.1 1104.5L1047.2 1104.1L1048.6 1104.4L1052.2 1104.8L1053.6 1104.8L1055.9 1104.7L1057.2 1104.2L1060.7 1103.8L1063.0 1103.6L1064.5 1103.9L1067.0 1104.0L1069.3 1103.3L1071.8 1104.3L1073.6 1105.6L1076.5 1104.5L1077.9 1103.4L1079.9 1104.1L1082.2 1104.6L1083.5 1106.5L1086.5 1103.6L1089.5 1103.1L1091.3 1103.3L1093.1 1103.9L1095.7 1102.5L1096.9 1100.8L1099.7 1100.4L1102.2 1100.5L1104.3 1100.4L1105.7 1099.7L1108.4 1098.1L1110.8 1096.5L1111.8 1095.9L1114.3 1094.8L1115.3 1093.1L1117.0 1091.5L1120.1 1090.5L1121.8 1089.8L1123.8 1088.7L1125.5 1087.7L1127.7 1087.5L1130.2 1087.0L1132.7 1089.2L1134.1 1085.5L1135.7 1085.8L1139.1 1085.4L1141.1 1084.3L1143.4 1084.0L1145.4 1084.0L1148.5 1084.4L1149.8 1084.9L1152.2 1084.3L1153.3 1083.7L1155.9 1083.7L1157.9 1084.3L1160.1 1083.9L1162.2 1082.2L1163.7 1079.9L1166.6 1078.9L1167.3 1081.3L1169.3 1077.3L1171.4 1078.4L1172.6 1074.2L1175.2 1072.6L1177.0 1071.7L1178.4 1070.5L1181.2 1068.9L1182.2 1069.8L1184.1 1066.0L1185.5 1065.0L1187.1 1064.5L1189.4 1063.9L1191.5 1062.6L1193.4 1061.3L1195.8 1059.1L1196.4 1057.1L1198.9 1056.8L1200.5 1056.3L1203.8 1054.9L1204.9 1053.3L1206.8 1051.7L1208.4 1051.0L1211.0 1051.0L1212.2 1050.0L1214.2 1047.6L1214.9 1046.1L1217.9 1045.3L1219.2 1044.1L1220.9 1043.0L1222.7 1040.9L1223.7 1040.8L1225.2 1038.2L1227.1 1036.6L1228.5 1034.2L1229.8 1032.9L1231.4 1031.6L1232.7 1029.9L1234.7 1027.3L1236.3 1025.0L1237.5 1024.5L1239.8 1024.1L1239.8 1023.2L1241.9 1021.4L1244.2 1018.8L1244.8 1016.2L1245.8 1014.2L1248.5 1012.5L1249.7 1010.8L1250.4 1008.6L1252.8 1006.7L1253.6 1006.0L1255.0 1005.9L1257.0 1005.3L1258.5 1003.1L1260.0 1000.6L1262.0 998.9L1263.4 996.9L1265.6 994.9L1267.3 993.8L1269.3 993.7L1270.5 992.2L1271.7 989.7L1273.3 988.6L1275.2 987.9L1277.4 986.3L1278.4 984.0L1278.9 981.6L1280.7 979.7L1280.8 978.5L1282.7 976.7L1283.1 973.8L1284.4 971.7L1285.3 970.3L1285.8 968.2L1286.9 966.5L1287.3 964.8L1288.7 963.2L1290.3 961.8L1292.8 959.6L1292.7 957.2L1293.8 954.6L1294.9 953.0L1297.4 952.6L1297.9 952.0L1299.9 950.9L1302.1 949.3L1303.1 946.8L1305.9 944.9L1307.3 946.0L1308.2 941.5L1309.6 937.8L1310.7 937.6L1311.9 936.2L1313.8 934.2L1314.9 932.1L1315.8 930.2L1316.7 928.5L1317.3 926.6L1318.6 924.3L1318.7 919.5L1320.2 920.1L1321.8 918.8L1322.6 916.3L1322.8 914.0L1323.8 911.4L1325.5 909.0L1326.7 908.1L1326.4 906.5L1327.8 904.2L1329.2 902.4L1330.6 900.1L1330.8 897.9L1332.5 896.3L1333.2 895.2L1335.4 893.7L1335.7 891.1L1336.6 889.5L1337.7 887.5L1339.4 884.0L1340.5 882.1L1340.9 884.3L1342.7 879.9L1343.2 878.5L1344.7 876.9L1345.7 874.2L1347.0 871.0L1348.5 870.7L1349.7 868.0L1351.7 866.8L1353.1 865.5L1354.1 863.6L1355.1 861.9L1357.5 861.4L1357.9 860.4L1359.6 857.9L1362.5 855.3L1364.1 853.6L1365.8 852.2L1366.8 850.4L1367.7 848.8L1369.1 847.7L1370.5 846.2L1370.6 843.9L1371.3 841.7L1371.6 840.1L1372.5 837.0L1374.5 833.6L1375.8 832.1L1376.8 832.3L1378.9 832.8L1381.5 832.8L1383.8 832.8L1384.6 831.5L1386.3 836.0L1386.7 837.7L1388.1 839.5L1389.9 842.1L1391.0 844.7L1391.0 846.1L1391.9 847.8L1393.3 850.5L1393.5 852.9L1394.1 855.2L1395.3 857.9L1395.9 860.4L1397.0 862.1L1397.6 863.3L1397.8 864.8L1398.7 867.3L1399.5 870.4L1399.6 872.9L1400.4 874.7L1401.9 875.6L1401.4 877.2L1403.0 880.5L1403.2 882.9L1403.5 884.6L1404.3 886.9L1404.7 889.4L1405.5 891.0L1405.2 892.7L1405.7 895.3L1406.1 897.3L1407.4 899.7L1407.4 903.0L1406.9 905.0L1407.5 905.7L1407.7 907.2L1408.4 910.2L1408.8 913.0L1409.9 914.6L1408.5 916.0L1410.0 920.7L1410.0 920.5L1409.8 923.6L1410.4 926.7L1410.5 928.6L1411.1 930.1L1411.8 932.4L1411.1 934.8L1412.6 936.5L1412.2 939.3L1413.4 942.3L1413.3 944.2L1414.0 945.9L1414.1 947.6L1414.7 949.1L1414.6 950.9L1414.6 953.9L1415.6 957.6L1416.0 960.4L1416.9 962.2L1415.5 961.8L1416.6 965.0L1417.5 966.7L1416.9 969.2L1417.7 971.6L1419.0 973.7L1419.1 975.9L1418.5 977.2L1419.8 978.5L1420.0 980.7L1420.2 982.8L1420.3 985.7L1420.6 989.1L1420.4 991.4L1420.9 993.7L1421.8 996.6L1421.8 998.6L1422.9 1000.3L1422.2 1002.8L1421.7 1004.8L1422.8 1006.6L1423.4 1008.4L1423.7 1009.8L1423.8 1012.0L1423.7 1015.0L1424.9 1017.5L1424.2 1019.4L1425.0 1021.8L1424.8 1024.8L1424.7 1027.4L1426.0 1029.5L1424.6 1031.3L1425.5 1032.7L1426.3 1034.6L1426.3 1037.0L1427.0 1039.0L1427.0 1041.5L1427.2 1044.3L1428.6 1045.8L1428.0 1047.5L1428.4 1050.7L1428.4 1053.6L1429.0 1055.5L1430.0 1057.3L1430.5 1058.8L1430.7 1060.3L1431.0 1062.4L1432.1 1065.4L1431.7 1068.0L1433.0 1069.9L1433.7 1072.1L1434.2 1073.8L1435.5 1076.1L1436.0 1079.1L1436.9 1081.3L1438.9 1079.5L1439.5 1083.8L1440.8 1085.7L1441.5 1088.2L1443.1 1092.4L1444.3 1088.2L1446.0 1091.5L1448.1 1094.2L1448.9 1092.9L1451.0 1094.3L1452.9 1096.0L1453.6 1097.1L1456.7 1097.7L1459.5 1098.1L1462.1 1099.2L1463.8 1100.5L1466.7 1100.2L1469.0 1100.4L1470.4 1101.8L1473.2 1102.5L1475.4 1103.6L1476.9 1104.9L1478.4 1105.6L1481.5 1106.4L1483.0 1107.4L1485.0 1108.9L1487.3 1109.6L1489.2 1109.1L1492.0 1109.1L1494.0 1109.5L1496.3 1110.5L1498.2 1110.9L1499.8 1110.5L1502.3 1110.6L1504.9 1107.7L1506.5 1109.7L1510.1 1110.6L1511.0 1112.2L1513.1 1112.3L1516.0 1111.6L1518.1 1111.7L1520.0 1114.7L1522.1 1110.8L1524.6 1111.8L1527.0 1113.0L1529.1 1112.2L1530.9 1111.9L1533.4 1112.0L1535.8 1111.5L1537.9 1111.9L1538.5 1112.4L1541.7 1112.3L1543.9 1112.0L1546.3 1111.8L1548.7 1111.9L1551.2 1112.4L1553.3 1112.9L1555.2 1112.6L1557.5 1111.2L1560.4 1110.6L1561.6 1111.9L1564.2 1112.5L1566.9 1111.2L1568.6 1110.4L1569.8 1111.3L1573.0 1112.3L1574.9 1112.0L1577.2 1112.0L1579.9 1112.9L1581.9 1113.3L1583.8 1112.8L1586.5 1112.2L1588.5 1112.4L1590.5 1113.4L1592.8 1113.2L1595.0 1111.9L1597.0 1110.8L1599.1 1111.1L1601.5 1111.6L1603.3 1111.7L1605.4 1112.1L1608.7 1112.2L1610.2 1112.0L1612.5 1112.2L1614.7 1111.8L1616.9 1111.0L1619.1 1111.7L1621.4 1112.4L1623.2 1111.3L1626.1 1111.1L1627.7 1111.9L1630.6 1111.4L1631.5 1110.5L1634.1 1110.5L1637.2 1111.7L1638.9 1112.8L1640.8 1112.9L1643.5 1112.8L1645.1 1112.7L1647.7 1112.4L1648.9 1112.6L1651.9 1113.1L1654.0 1113.9L1656.6 1114.9L1659.0 1115.0L1660.4 1114.8L1663.6 1115.3L1664.9 1115.0L1666.5 1114.7L1668.5 1115.0L1672.4 1115.2L1673.9 1116.1L1675.8 1116.8L1678.0 1117.1L1680.0 1117.3L1683.3 1117.3L1684.9 1117.0L1687.8 1116.7L1689.2 1116.9L1690.5 1116.9L1694.0 1117.0L1695.7 1117.3L1698.0 1116.9L1700.9 1115.7L1702.4 1115.4L1705.2 1116.3L1706.9 1116.9L1708.8 1117.0L1711.5 1117.3L1713.2 1117.3L1716.2 1116.6L1718.3 1115.7L1720.1 1114.8L1722.5 1114.6L1724.7 1115.0L1726.6 1115.5L1729.3 1115.5L1731.0 1115.2L1733.6 1115.1L1735.1 1115.4L1737.8 1115.3L1740.1 1115.2L1741.8 1114.9L1744.1 1114.3L1746.3 1114.3L1749.0 1115.2L1750.5 1115.8L1753.2 1115.8L1755.8 1116.8L1757.5 1118.0L1758.9 1117.6L1761.8 1117.7L1764.3 1118.2L1765.9 1115.4L1768.7 1119.4L1770.7 1120.7L1772.7 1120.6L1774.6 1119.9L1776.7 1119.2L1778.9 1118.7L1781.2 1118.1L1783.5 1116.9L1785.6 1115.8L1787.5 1115.5L1789.8 1115.3L1792.0 1114.7L1793.3 1113.5L1795.9 1112.6L1798.0 1113.9L1800.4 1115.3L1802.5 1114.7L1804.7 1113.6L1806.6 1113.5L1809.4 1114.0L1811.4 1114.7L1812.7 1115.5L1815.6 1116.3L1817.3 1117.6L1820.6 1117.9L1821.8 1117.3L1824.0 1118.0L1826.3 1118.5L1828.3 1118.6L1830.5 1119.8L1833.3 1121.4L1834.9 1122.4L1837.3 1123.0L1839.5 1125.0L1840.7 1126.8L1844.0 1127.0L1845.6 1127.1L1847.8 1127.0L1849.1 1127.0L1851.8 1127.9L1853.6 1128.3L1855.2 1128.5L1858.3 1128.2L1859.5 1126.3L1861.0 1124.4L1863.1 1122.5L1865.3 1119.5L1867.2 1117.4L1868.9 1116.3L1871.0 1115.6L1873.0 1115.0L1873.8 1114.9L1876.0 1115.7L1877.8 1116.4L1880.2 1116.2L1882.7 1116.6L1884.3 1120.4L1885.5 1119.3L1887.8 1120.1L1890.3 1122.0L1891.6 1123.8L1893.8 1125.3L1896.0 1127.0L1897.1 1127.4L1900.3 1126.9L1902.2 1128.6L1904.3 1126.8L1905.8 1126.8L1908.0 1126.6L1910.3 1126.7L1912.8 1126.7L1914.9 1126.1L1917.1 1124.8L1920.0 1124.1L1922.1 1124.6L1923.4 1124.4L1925.6 1124.0L1928.8 1123.6L1930.1 1123.5L1933.0 1123.4L1935.3 1122.8L1936.6 1121.7L1938.9 1120.6L1941.2 1120.4L1943.0 1120.1L1945.1 1122.0L1947.5 1119.4L1950.2 1119.8L1951.9 1119.5L1954.2 1118.2L1956.3 1118.1L1958.1 1118.7L1961.5 1119.2L1962.1 1119.0L1965.0 1118.8L1967.7 1118.9L1969.1 1119.4L1972.1 1119.5L1974.6 1118.9L1975.9 1118.3L1978.6 1118.1L1980.2 1118.8L1983.1 1119.2L1985.1 1119.1L1987.4 1118.7L1990.1 1117.3L1991.9 1116.5L1994.5 1117.0L1996.4 1117.8L1997.8 1118.2L2000.6 1118.1L2002.9 1118.2L2004.3 1118.2L2007.7 1117.3L2009.3 1116.7" stroke="#f00" stroke-width="2.7"/>
</g>
<g fill="#f00">
<circle cx="283.0" cy="163.8" r="9.4"/>
<circle cx="298.0" cy="170.8" r="9.4"/>
<circle cx="335.3" cy="195.5" r="9.4"/>
<circle cx="390.3" cy="213.1" r="9.4"/>
<circle cx="445.6" cy="223.4" r="9.4"/>
<circle cx="499.5" cy="229.4" r="9.4"/>
<circle cx="553.4" cy="232.4" r="9.4"/>
<circle cx="608.7" cy="236.1" r="9.4"/>
<circle cx="664.3" cy="238.4" r="9.4"/>
<circle cx="718.4" cy="239.6" r="9.4"/>
<circle cx="773.5" cy="245.4" r="9.4"/>
<circle cx="812.1" cy="247.3" r="9.4"/>
<circle cx="867.2" cy="249.4" r="9.4"/>
<circle cx="917.5" cy="253.5" r="9.4"/>
<circle cx="953.9" cy="258.3" r="9.4"/>
<circle cx="1010.4" cy="261.0" r="9.4"/>
<circle cx="1064.4" cy="270.2" r="9.4"/>
<circle cx="1112.0" cy="287.2" r="9.4"/>
<circle cx="1141.4" cy="299.1" r="9.4"/>
<circle cx="1187.1" cy="332.6" r="9.4"/>
<circle cx="1221.4" cy="370.4" r="9.4"/>
<circle cx="1242.2" cy="410.4" r="9.4"/>
<circle cx="1264.4" cy="453.6" r="9.4"/>
<circle cx="1283.5" cy="502.2" r="9.4"/>
<circle cx="1299.6" cy="547.8" r="9.4"/>
<circle cx="1313.4" cy="599.4" r="9.4"/>
<circle cx="1326.4" cy="644.2" r="9.4"/>
<circle cx="1337.5" cy="694.2" r="9.4"/>
<circle cx="1349.3" cy="746.3" r="9.4"/>
<circle cx="1360.4" cy="795.2" r="9.4"/>
<circle cx="1369.4" cy="838.0" r="9.4"/>
<circle cx="1379.4" cy="898.3" r="9.4"/>
<circle cx="1388.5" cy="949.3" r="9.4"/>
<circle cx="1398.5" cy="999.3" r="9.4"/>
<circle cx="1408.3" cy="1048.3" r="9.4"/>
<circle cx="1425.2" cy="1092.2" r="9.4"/>
<circle cx="1454.5" cy="1114.5" r="9.4"/>
<circle cx="1509.3" cy="1125.3" r="9.4"/>
<circle cx="1550.5" cy="1130.3" r="9.4"/>
<circle cx="1605.7" cy="1134.5" r="9.4"/>
<circle cx="1659.2" cy="1138.4" r="9.4"/>
<circle cx="1703.3" cy="1136.5" r="9.4"/>
<circle cx="1757.3" cy="1142.4" r="9.4"/>
<circle cx="1812.3" cy="1142.4" r="9.4"/>
<circle cx="1851.2" cy="1135.1" r="9.4"/>
<circle cx="1891.7" cy="1135.1" r="9.4"/>
<circle cx="1944.6" cy="1135.6" r="9.4"/>
<circle cx="1978.9" cy="1128.3" r="9.4"/>
<circle cx="283.4" cy="1109.4" r="9.4"/>
<circle cx="301.5" cy="1086.5" r="9.4"/>
<circle cx="329.4" cy="1082.3" r="9.4"/>
<circle cx="356.8" cy="1095.2" r="9.4"/>
<circle cx="384.7" cy="1105.6" r="9.4"/>
<circle cx="411.3" cy="1107.6" r="9.4"/>
<circle cx="439.2" cy="1109.4" r="9.4"/>
<circle cx="467.4" cy="1113.5" r="9.4"/>
<circle cx="494.8" cy="1112.2" r="9.4"/>
<circle cx="521.5" cy="1114.1" r="9.4"/>
<circle cx="549.5" cy="1112.6" r="9.4"/>
<circle cx="577.2" cy="1113.5" r="9.4"/>
<circle cx="605.0" cy="1113.1" r="9.4"/>
<circle cx="633.5" cy="1112.0" r="9.4"/>
<circle cx="660.3" cy="1110.6" r="9.4"/>
<circle cx="688.6" cy="1114.5" r="9.4"/>
<circle cx="715.8" cy="1113.5" r="9.4"/>
<circle cx="744.2" cy="1114.5" r="9.4"/>
<circle cx="771.6" cy="1115.1" r="9.4"/>
<circle cx="798.9" cy="1111.4" r="9.4"/>
<circle cx="826.7" cy="1111.4" r="9.4"/>
<circle cx="854.6" cy="1114.5" r="9.4"/>
<circle cx="882.4" cy="1111.4" r="9.4"/>
<circle cx="910.4" cy="1113.5" r="9.4"/>
<circle cx="937.7" cy="1114.5" r="9.4"/>
<circle cx="964.0" cy="1111.8" r="9.4"/>
<circle cx="992.0" cy="1110.4" r="9.4"/>
<circle cx="1019.8" cy="1109.4" r="9.4"/>
<circle cx="1047.5" cy="1104.2" r="9.4"/>
<circle cx="1074.4" cy="1104.3" r="9.4"/>
<circle cx="1102.4" cy="1100.2" r="9.4"/>
<circle cx="1129.4" cy="1087.4" r="9.4"/>
<circle cx="1157.5" cy="1083.3" r="9.4"/>
<circle cx="1185.5" cy="1065.2" r="9.4"/>
<circle cx="1213.6" cy="1048.2" r="9.4"/>
<circle cx="1236.5" cy="1025.4" r="9.4"/>
<circle cx="1255.5" cy="1005.1" r="9.4"/>
<circle cx="1278.4" cy="983.4" r="9.4"/>
<circle cx="1290.5" cy="959.3" r="9.4"/>
<circle cx="1312.4" cy="936.3" r="9.4"/>
<circle cx="1324.5" cy="911.3" r="9.4"/>
<circle cx="1337.8" cy="887.4" r="9.4"/>
<circle cx="1354.4" cy="863.5" r="9.4"/>
<circle cx="1369.6" cy="847.3" r="9.4"/>
<circle cx="1394.5" cy="855.4" r="9.4"/>
<circle cx="1402.4" cy="879.4" r="9.4"/>
<circle cx="1407.4" cy="904.3" r="9.4"/>
<circle cx="1411.4" cy="932.4" r="9.4"/>
<circle cx="1415.5" cy="957.4" r="9.4"/>
<circle cx="1419.5" cy="982.3" r="9.4"/>
<circle cx="1423.5" cy="1010.3" r="9.4"/>
<circle cx="1426.6" cy="1038.2" r="9.4"/>
<circle cx="1431.6" cy="1064.3" r="9.4"/>
<circle cx="1442.8" cy="1089.5" r="9.4"/>
<circle cx="1470.5" cy="1102.4" r="9.4"/>
<circle cx="1497.5" cy="1110.5" r="9.4"/>
<circle cx="1525.5" cy="1111.8" r="9.4"/>
<circle cx="1552.5" cy="1111.8" r="9.4"/>
<circle cx="1579.5" cy="1112.5" r="9.4"/>
<circle cx="1607.5" cy="1111.6" r="9.4"/>
<circle cx="1634.4" cy="1111.4" r="9.4"/>
<circle cx="1661.4" cy="1114.8" r="9.4"/>
<circle cx="1689.3" cy="1117.6" r="9.4"/>
<circle cx="1716.6" cy="1115.9" r="9.4"/>
<circle cx="1744.1" cy="1114.8" r="9.4"/>
<circle cx="1771.5" cy="1119.3" r="9.4"/>
<circle cx="1798.5" cy="1113.1" r="9.4"/>
<circle cx="1826.5" cy="1119.3" r="9.4"/>
<circle cx="1852.3" cy="1127.8" r="9.4"/>
<circle cx="1875.4" cy="1114.3" r="9.4"/>
<circle cx="1901.8" cy="1127.2" r="9.4"/>
<circle cx="1928.3" cy="1122.7" r="9.4"/>
<circle cx="1955.8" cy="1118.8" r="9.4"/>
<circle cx="1984.5" cy="1118.8" r="9.4"/>
</g>
<g fill="none"><path d="M298.0 164.5L301.0 164.9L304.0 165.3L306.9 165.7L309.9 166.2L312.9 166.7L315.8 167.3L318.8 167.9L321.7 168.5L324.6 169.1L327.6 169.9L330.5 170.6L333.4 171.4L336.3 172.3L339.1 173.2L341.9 174.2L344.7 175.3L347.5 176.5L350.2 177.7L353.0 179.0L355.7 180.2L358.4 181.5L361.2 182.8L363.9 184.1L366.6 185.4L369.2 186.8L371.9 188.2L374.6 189.6L377.2 191.0L379.9 192.4L382.5 193.9L385.1 195.3L387.7 196.8L390.3 198.3L392.9 199.9L395.5 201.4L398.1 203.0L400.6 204.6L403.1 206.2L405.7 207.8L408.2 209.4L410.7 211.0L413.3 212.6L415.8 214.2L418.4 215.7L421.0 217.2L423.6 218.7L426.2 220.2L428.9 221.7L431.4 223.2L434.0 224.8L436.6 226.3L439.2 227.9L441.7 229.5L444.3 231.1L446.8 232.7L449.3 234.3L451.9 235.9L454.4 237.5L457.0 239.1L459.5 240.8L462.0 242.4L464.5 244.1L467.0 245.7L469.6 247.3L472.1 248.9L474.7 250.4L477.4 251.8L480.0 253.2L482.7 254.6L485.4 256.0L488.1 257.3L490.8 258.6L493.5 259.8L496.2 261.1L499.0 262.3L501.8 263.5L504.5 264.7L507.3 265.8L510.1 266.9L512.9 267.9L515.8 268.8L518.6 269.7L521.5 270.6L524.4 271.5L527.3 272.3L530.2 273.1L533.1 273.9L536.0 274.7L538.9 275.5L541.8 276.2L544.7 276.9L547.7 277.5L550.6 278.1L553.6 278.7L556.5 279.2L559.5 279.7L562.5 280.2L565.4 280.7L568.4 281.2L571.4 281.7L574.3 282.1L577.3 282.6L580.3 283.1L583.3 283.5L586.2 283.9L589.2 284.2L592.2 284.5L595.2 284.7L598.2 285.0L601.2 285.2L604.2 285.4L607.2 285.6L610.2 285.8L613.2 286.0L616.2 286.1L619.2 286.3L622.2 286.4L625.2 286.6L628.2 286.7L631.2 286.8L634.2 287.0L637.2 287.1L640.2 287.2L643.2 287.4L646.2 287.5L649.2 287.6L652.2 287.7L655.2 287.8L658.2 287.9L661.2 288.0L664.2 288.1L667.2 288.2L670.2 288.3L673.2 288.4L676.2 288.5L679.2 288.6L682.3 288.7L685.3 288.8L688.3 288.9L691.3 288.9L694.3 289.0L697.3 289.1L700.3 289.2L703.3 289.2L706.3 289.3L709.3 289.4L712.3 289.4L715.3 289.5L718.3 289.5L721.3 289.6L724.3 289.6L727.3 289.7L730.3 289.7L733.3 289.8L736.3 289.8L739.3 289.9L742.3 289.9L745.3 290.0L748.3 290.0L751.4 290.1L754.4 290.1L757.4 290.1L760.4 290.2L763.4 290.2L766.4 290.2L769.4 290.3L772.4 290.3L775.4 290.4L778.4 290.4L781.4 290.4L784.4 290.5L787.4 290.5L790.4 290.5L793.4 290.6L796.4 290.6L799.4 290.7L802.4 290.7L805.4 290.7L808.4 290.8L811.4 290.8L814.5 290.8L817.5 290.9L820.5 290.9L823.5 291.0L826.5 291.0L829.5 291.1L832.5 291.1L835.5 291.2L838.5 291.2L841.5 291.3L844.5 291.3L847.5 291.4L850.5 291.4L853.5 291.5L856.5 291.5L859.5 291.6L862.5 291.6L865.5 291.7L868.5 291.7L871.5 291.8L874.6 291.8L877.6 291.9L880.6 291.9L883.6 292.0L886.6 292.0L889.6 292.1L892.6 292.1L895.6 292.2L898.6 292.2L901.6 292.3L904.6 292.3L907.6 292.4L910.6 292.5L913.6 292.5L916.6 292.6L919.6 292.6L922.6 292.7L925.6 292.8L928.6 292.8L931.6 292.9L934.7 293.0L937.7 293.0L940.7 293.1L943.7 293.2L946.7 293.3L949.7 293.4L952.7 293.4L955.7 293.5L958.7 293.6L961.7 293.7L964.7 293.8L967.7 293.9L970.7 294.0L973.7 294.1L976.7 294.2L979.7 294.3L982.7 294.4L985.7 294.5L988.7 294.7L991.7 294.8L994.7 295.0L997.7 295.2L1000.7 295.3L1003.7 295.5L1006.7 295.7L1009.7 296.0L1012.7 296.2L1015.7 296.4L1018.7 296.7L1021.7 297.0L1024.7 297.2L1027.7 297.6L1030.6 297.9L1033.6 298.3L1036.6 298.7L1039.6 299.2L1042.6 299.7L1045.5 300.2L1048.5 300.8L1051.4 301.3L1054.3 302.0L1057.3 302.7L1060.2 303.4L1063.1 304.2L1066.0 305.1L1068.9 306.0L1071.7 307.0L1074.6 308.0L1077.3 309.1L1080.1 310.2L1082.9 311.4L1085.6 312.7L1088.3 314.1L1091.0 315.7L1093.5 317.2L1096.0 318.9L1098.3 320.6L1100.6 322.5L1102.9 324.5L1105.0 326.6L1107.2 328.8L1109.2 331.0L1111.3 333.3L1113.2 335.7L1115.0 338.1L1116.8 340.5L1118.5 342.9L1120.1 345.4L1121.7 348.0L1123.1 350.7L1124.6 353.4L1125.9 356.1L1127.2 358.8L1128.3 361.5L1129.5 364.3L1130.6 367.1L1131.6 369.9L1132.6 372.8L1133.6 375.6L1134.5 378.5L1135.4 381.3L1136.3 384.2L1137.2 387.1L1138.0 390.0L1138.8 392.9L1139.6 395.8L1140.3 398.7L1141.1 401.6L1141.8 404.5L1142.5 407.4L1143.3 410.4L1144.0 413.3L1144.6 416.2L1145.3 419.1L1145.9 422.1L1146.6 425.0L1147.2 428.0L1147.8 430.9L1148.5 433.8L1149.1 436.8L1149.7 439.7L1150.4 442.6L1151.0 445.6L1151.7 448.5L1152.3 451.5L1152.9 454.4L1153.5 457.3L1154.1 460.3L1154.6 463.3L1155.1 466.2L1155.5 469.2L1156.0 472.2L1156.4 475.1L1156.7 478.1L1157.1 481.1L1157.5 484.1L1157.8 487.1L1158.2 490.0L1158.6 493.0L1159.0 496.0L1159.4 499.0L1159.8 502.0L1160.2 504.9L1160.6 507.9L1161.1 510.9L1161.5 513.9L1161.9 516.8L1162.3 519.8L1162.7 522.8L1163.1 525.8L1163.5 528.8L1163.8 531.7L1164.2 534.7L1164.6 537.7L1165.0 540.7L1165.4 543.7L1165.9 546.6L1166.3 549.6L1166.8 552.6L1167.3 555.5L1167.9 558.5L1168.5 561.4L1169.1 564.4L1169.8 567.3L1170.5 570.2L1171.2 573.1L1172.0 576.1L1172.8 579.0L1173.6 581.9L1174.4 584.7L1175.3 587.6L1176.1 590.5L1177.0 593.3L1178.0 596.2L1179.0 599.1L1180.0 601.9L1181.0 604.7L1182.1 607.6L1183.3 610.3L1184.4 613.1L1185.6 615.8L1186.9 618.5L1188.2 621.2L1189.6 623.9L1191.1 626.5L1192.6 629.1L1194.2 631.7L1195.8 634.3L1197.4 636.8L1199.1 639.3L1200.8 641.8L1202.5 644.2L1204.3 646.7L1206.0 649.1L1207.9 651.4L1209.7 653.8L1211.7 656.1L1213.6 658.4L1215.6 660.7L1217.6 663.0L1219.6 665.2L1221.7 667.4L1223.7 669.6L1225.8 671.7L1227.9 673.9L1230.0 676.0L1232.2 678.1L1234.4 680.2L1236.6 682.2L1238.8 684.3L1241.1 686.3L1243.4 688.2L1245.7 690.1L1248.1 692.0L1250.4 693.8L1252.8 695.6L1255.2 697.3L1257.7 699.0L1260.2 700.7L1262.7 702.3L1265.3 703.9L1267.9 705.5L1270.5 707.0L1273.1 708.6L1275.7 710.1L1278.3 711.6L1280.9 713.1L1283.5 714.5L1286.2 716.0L1288.8 717.4L1291.5 718.8L1294.1 720.2L1296.8 721.5L1299.5 722.9L1302.2 724.2L1304.9 725.6L1307.6 726.9L1310.3 728.2L1313.0 729.5L1315.7 730.8L1318.4 732.1L1321.1 733.4L1323.8 734.7L1326.6 736.0L1329.3 737.2L1332.0 738.5L1334.8 739.7L1337.5 741.0L1340.2 742.2L1343.0 743.5L1345.7 744.7L1348.5 745.9L1351.2 747.1L1353.9 748.4L1356.7 749.6L1359.4 750.8L1362.2 752.0L1364.9 753.2L1367.7 754.4L1370.4 755.6L1373.2 756.8L1376.0 758.0L1378.7 759.2L1381.5 760.3L1384.3 761.4L1387.1 762.6L1389.9 763.7L1392.7 764.8L1395.5 765.9L1398.3 767.0L1401.1 768.1L1403.9 769.2L1406.7 770.2L1409.5 771.3L1412.3 772.3L1415.2 773.3L1418.0 774.2L1420.9 775.1L1423.7 776.1L1426.6 777.0L1429.5 777.9L1432.3 778.8L1435.2 779.6L1438.1 780.5L1441.0 781.4L1443.8 782.2L1446.7 783.0L1449.6 783.9L1452.5 784.7L1455.4 785.5L1458.3 786.3L1461.2 787.1L1464.1 787.9L1467.0 788.7L1469.9 789.5L1472.8 790.3L1475.7 791.0L1478.6 791.8L1481.5 792.6L1484.4 793.4L1487.3 794.1L1490.2 794.9L1493.2 795.6L1496.1 796.4L1499.0 797.1L1501.9 797.8L1504.8 798.5L1507.7 799.3L1510.6 800.0L1513.6 800.7L1516.5 801.4L1519.4 802.1L1522.3 802.8L1525.3 803.5L1528.2 804.2L1531.1 804.9L1534.0 805.6L1536.9 806.3L1539.9 807.0L1542.8 807.7L1545.7 808.4L1548.6 809.1L1551.6 809.8L1554.5 810.5L1557.4 811.2L1560.3 811.9L1563.3 812.6L1566.2 813.3L1569.1 814.0L1572.0 814.7L1575.0 815.4L1577.9 816.1L1580.8 816.8L1583.7 817.5L1586.6 818.2L1589.6 818.9L1592.5 819.5L1595.4 820.2L1598.4 820.9L1601.3 821.5L1604.2 822.2L1607.2 822.8L1610.1 823.4L1613.0 824.0L1616.0 824.7L1618.9 825.2L1621.9 825.8L1624.8 826.4L1627.8 827.0L1630.7 827.6L1633.7 828.2L1636.6 828.7L1639.6 829.3L1642.5 829.8L1645.5 830.4L1648.4 831.0L1651.4 831.5L1654.3 832.0L1657.3 832.6L1660.3 833.1L1663.2 833.6L1666.2 834.1L1669.1 834.7L1672.1 835.2L1675.1 835.7L1678.0 836.2L1681.0 836.7L1684.0 837.2L1686.9 837.7L1689.9 838.2L1692.8 838.7L1695.8 839.2L1698.8 839.6L1701.7 840.1L1704.7 840.6L1707.7 841.1L1710.6 841.6L1713.6 842.1L1716.6 842.5L1719.5 843.0L1722.5 843.5L1725.5 844.0L1728.4 844.4L1731.4 844.9L1734.4 845.4L1737.4 845.9L1740.3 846.3L1743.3 846.8L1746.3 847.2L1749.2 847.7L1752.2 848.2L1755.2 848.6L1758.2 849.1L1761.1 849.5L1764.1 849.9L1767.1 850.4L1770.1 850.8L1773.0 851.2L1776.0 851.7L1779.0 852.1L1782.0 852.5L1784.9 852.9L1787.9 853.3L1790.9 853.7L1793.9 854.2L1796.8 854.6L1799.8 854.9L1802.8 855.3L1805.8 855.7L1808.8 856.1L1811.7 856.5L1814.7 856.8L1817.7 857.2L1820.7 857.6L1823.7 857.9L1826.6 858.3L1829.6 858.6L1832.6 859.0L1835.6 859.3L1838.6 859.6L1841.6 860.0L1844.6 860.3L1847.5 860.6L1850.5 860.9L1853.5 861.2L1856.5 861.6L1859.5 861.9L1862.5 862.2L1865.5 862.5L1868.5 862.8L1871.4 863.1L1874.4 863.4L1877.4 863.7L1880.4 864.0L1883.4 864.3L1886.4 864.5L1889.4 864.8L1892.4 865.1L1895.4 865.4L1898.4 865.7L1901.4 866.0L1904.4 866.2L1907.4 866.5L1910.3 866.8L1913.3 867.0L1916.3 867.3L1919.3 867.6L1922.3 867.8L1925.3 868.1L1928.3 868.4L1931.3 868.6L1934.3 868.9L1937.3 869.1L1940.3 869.4L1943.3 869.6L1946.3 869.9L1949.3 870.2L1952.3 870.4L1955.3 870.7L1958.3 870.9L1961.3 871.2L1964.3 871.4L1967.2 871.6L1970.2 871.9L1973.2 872.1L1976.2 872.4L1979.2 872.6L1982.2 872.8L1985.2 873.1L1988.2 873.3L1991.2 873.5L1994.2 873.7L1997.2 873.9L2000.2 874.2L2003.2 874.4L2006.2 874.6L2009.2 874.8" stroke="#000" stroke-width="2.8"/><path d="M297.8 1105.4L300.3 1105.4L302.8 1105.3L305.4 1105.2L307.9 1105.0L310.4 1104.8L312.9 1104.6L315.4 1104.4L317.9 1104.1L320.3 1103.8L322.8 1103.6L325.3 1103.3L327.7 1102.9L330.2 1102.5L332.6 1102.0L335.1 1101.4L337.5 1100.8L339.9 1100.1L342.3 1099.4L344.8 1098.7L347.2 1097.9L349.6 1097.2L352.0 1096.5L354.4 1095.8L356.8 1095.1L359.2 1094.4L361.6 1093.6L364.0 1092.8L366.3 1092.0L368.7 1091.2L371.1 1090.4L373.5 1089.6L375.9 1088.9L378.3 1088.2L380.7 1087.6L383.1 1087.0L385.6 1086.3L388.0 1085.7L390.4 1085.0L392.9 1084.4L395.4 1083.8L397.8 1083.2L400.3 1082.8L402.8 1082.4L405.2 1082.2L407.7 1082.1L410.2 1082.1L412.7 1082.1L415.2 1082.1L417.7 1082.1L420.2 1082.1L422.7 1082.1L425.2 1082.1L427.7 1082.1L430.2 1082.1L432.8 1082.1L435.3 1082.1L437.8 1082.2L440.3 1082.3L442.8 1082.5L445.2 1082.7L447.7 1083.0L450.2 1083.3L452.7 1083.6L455.2 1084.0L457.7 1084.4L460.2 1084.7L462.7 1085.1L465.1 1085.5L467.6 1085.9L470.0 1086.4L472.5 1086.9L474.9 1087.5L477.4 1088.1L479.8 1088.7L482.2 1089.3L484.7 1089.9L487.1 1090.5L489.5 1091.1L492.0 1091.7L494.4 1092.3L496.8 1092.9L499.3 1093.5L501.7 1094.1L504.1 1094.8L506.5 1095.4L509.0 1096.0L511.4 1096.7L513.8 1097.3L516.3 1097.9L518.7 1098.4L521.1 1099.0L523.6 1099.6L526.0 1100.1L528.5 1100.7L530.9 1101.2L533.4 1101.8L535.8 1102.3L538.3 1102.8L540.7 1103.3L543.2 1103.8L545.6 1104.2L548.1 1104.6L550.6 1105.1L553.0 1105.5L555.5 1105.9L558.0 1106.3L560.5 1106.7L562.9 1107.0L565.4 1107.4L567.9 1107.7L570.4 1108.1L572.9 1108.4L575.4 1108.7L577.8 1109.0L580.3 1109.3L582.8 1109.6L585.3 1109.8L587.8 1110.1L590.3 1110.4L592.8 1110.6L595.3 1110.9L597.8 1111.1L600.3 1111.3L602.8 1111.6L605.3 1111.8L607.8 1112.0L610.2 1112.2L612.7 1112.4L615.2 1112.6L617.7 1112.8L620.2 1113.0L622.7 1113.2L625.2 1113.3L627.7 1113.5L630.2 1113.6L632.7 1113.8L635.2 1113.9L637.7 1114.0L640.2 1114.2L642.7 1114.3L645.2 1114.4L647.8 1114.5L650.3 1114.6L652.8 1114.6L655.3 1114.7L657.8 1114.7L660.3 1114.8L662.8 1114.8L665.3 1114.9L667.8 1114.9L670.3 1114.9L672.8 1114.9L675.3 1115.0L677.8 1115.0L680.3 1115.0L682.8 1115.0L685.3 1115.0L687.8 1115.0L690.3 1115.0L692.8 1115.0L695.3 1115.0L697.8 1115.0L700.4 1115.0L702.9 1115.0L705.4 1115.0L707.9 1115.0L710.4 1115.0L712.9 1115.0L715.4 1115.0L717.9 1115.0L720.4 1115.0L722.9 1115.0L725.4 1115.0L727.9 1115.0L730.4 1115.0L732.9 1115.0L735.4 1115.0L737.9 1115.0L740.4 1115.0L742.9 1115.0L745.4 1115.0L747.9 1115.0L750.5 1115.0L753.0 1115.0L755.5 1115.0L758.0 1115.0L760.5 1115.0L763.0 1115.0L765.5 1115.0L768.0 1115.0L770.5 1115.0L773.0 1115.0L775.5 1115.0L778.0 1115.0L780.5 1115.0L783.0 1115.0L785.5 1115.0L788.0 1115.0L790.5 1115.0L793.0 1115.0L795.5 1115.0L798.0 1115.0L800.5 1115.0L803.1 1115.0L805.6 1115.0L808.1 1115.0L810.6 1115.0L813.1 1115.0L815.6 1115.0L818.1 1115.0L820.6 1115.0L823.1 1115.0L825.6 1115.0L828.1 1115.0L830.6 1115.0L833.1 1115.0L835.6 1115.0L838.1 1115.0L840.6 1115.0L843.1 1115.0L845.6 1115.0L848.1 1115.0L850.6 1115.0L853.2 1115.0L855.7 1115.0L858.2 1115.0L860.7 1115.0L863.2 1115.0L865.7 1115.0L868.2 1115.0L870.7 1115.0L873.2 1115.0L875.7 1115.0L878.2 1115.0L880.7 1115.0L883.2 1115.0L885.7 1115.0L888.2 1115.0L890.7 1115.0L893.2 1115.0L895.7 1115.0L898.2 1115.0L900.7 1115.0L903.3 1115.0L905.8 1115.0L908.3 1115.0L910.8 1115.0L913.3 1115.0L915.8 1115.0L918.3 1115.0L920.8 1115.0L923.3 1115.0L925.8 1115.0L928.3 1115.0L930.8 1115.0L933.3 1115.0L935.8 1115.0L938.3 1115.0L940.8 1115.0L943.3 1115.0L945.8 1114.9L948.3 1114.9L950.8 1114.9L953.4 1114.9L955.9 1114.8L958.4 1114.8L960.9 1114.8L963.4 1114.7L965.9 1114.6L968.4 1114.6L970.9 1114.4L973.4 1114.3L975.9 1114.2L978.4 1114.0L980.9 1113.9L983.4 1113.8L985.9 1113.6L988.4 1113.5L990.9 1113.3L993.4 1113.2L995.9 1113.0L998.4 1112.8L1000.9 1112.6L1003.4 1112.4L1005.9 1112.2L1008.4 1112.0L1010.9 1111.8L1013.4 1111.6L1015.9 1111.4L1018.4 1111.2L1020.9 1110.9L1023.4 1110.7L1025.9 1110.5L1028.4 1110.2L1030.9 1110.0L1033.4 1109.7L1035.9 1109.4L1038.4 1109.0L1040.8 1108.7L1043.3 1108.3L1045.7 1107.8L1048.1 1107.3L1050.6 1106.6L1053.0 1105.9L1055.4 1105.1L1057.8 1104.2L1060.2 1103.3L1062.6 1102.3L1064.9 1101.3L1067.1 1100.2L1069.3 1099.2L1071.5 1098.1L1073.6 1096.9L1075.7 1095.6L1077.8 1094.2L1079.9 1092.7L1081.9 1091.2L1084.0 1089.6L1085.9 1087.9L1087.9 1086.2L1089.8 1084.4L1091.6 1082.6L1093.4 1080.7L1095.0 1078.9L1096.6 1077.0L1098.1 1075.1L1099.5 1073.2L1100.9 1071.2L1102.2 1069.1L1103.4 1066.9L1104.6 1064.7L1105.7 1062.4L1106.8 1060.1L1107.9 1057.8L1108.9 1055.4L1109.9 1053.1L1110.9 1050.8L1111.9 1048.5L1112.9 1046.2L1113.9 1043.9L1114.8 1041.5L1115.7 1039.2L1116.6 1036.9L1117.5 1034.5L1118.4 1032.1L1119.2 1029.8L1120.0 1027.4L1120.8 1025.0L1121.5 1022.6L1122.3 1020.2L1123.0 1017.9L1123.7 1015.4L1124.4 1013.0L1125.1 1010.6L1125.7 1008.2L1126.4 1005.8L1127.0 1003.3L1127.5 1000.9L1128.0 998.5L1128.5 996.0L1129.0 993.5L1129.4 991.1L1129.8 988.6L1130.2 986.1L1130.6 983.7L1131.0 981.2L1131.4 978.7L1131.8 976.2L1132.2 973.8L1132.7 971.3L1133.1 968.8L1133.6 966.4L1134.1 963.9L1134.5 961.4L1135.0 959.0L1135.5 956.5L1135.9 954.0L1136.3 951.6L1136.7 949.1L1137.1 946.6L1137.5 944.2L1137.8 941.7L1138.2 939.2L1138.5 936.7L1138.8 934.2L1139.1 931.7L1139.4 929.3L1139.8 926.8L1140.1 924.3L1140.4 921.8L1140.8 919.3L1141.2 916.8L1141.5 914.4L1142.0 911.9L1142.4 909.4L1142.8 907.0L1143.2 904.5L1143.7 902.0L1144.1 899.6L1144.5 897.1L1144.8 894.6L1145.2 892.1L1145.5 889.6L1145.8 887.2L1146.1 884.7L1146.4 882.2L1146.7 879.7L1147.0 877.2L1147.3 874.7L1147.5 872.2L1147.8 869.7L1148.1 867.2L1148.4 864.8L1148.7 862.3L1149.0 859.8L1149.2 857.3L1149.5 854.8L1149.8 852.3L1150.1 849.8L1150.4 847.3L1150.7 844.8L1151.0 842.4L1151.3 839.9L1151.7 837.4L1152.0 834.9L1152.3 832.4L1152.7 830.0L1153.1 827.5L1153.4 825.0L1153.8 822.5L1154.2 820.0L1154.6 817.6L1155.1 815.1L1155.5 812.6L1156.0 810.1L1156.5 807.7L1157.2 805.3L1158.4 802.6L1159.9 803.1L1161.3 805.5L1162.3 807.8L1163.2 810.2L1164.0 812.6L1164.7 815.0L1165.2 817.5L1165.7 819.9L1166.1 822.3L1166.5 824.8L1166.9 827.3L1167.2 829.8L1167.5 832.3L1167.9 834.8L1168.1 837.3L1168.4 839.8L1168.7 842.3L1169.0 844.8L1169.3 847.2L1169.6 849.7L1169.9 852.2L1170.2 854.7L1170.5 857.2L1170.7 859.7L1171.0 862.2L1171.3 864.7L1171.5 867.2L1171.8 869.7L1172.1 872.1L1172.4 874.6L1172.6 877.1L1172.9 879.6L1173.2 882.1L1173.5 884.6L1173.8 887.1L1174.1 889.6L1174.3 892.1L1174.6 894.5L1174.9 897.0L1175.2 899.5L1175.5 902.0L1175.8 904.5L1176.2 907.0L1176.5 909.5L1176.8 911.9L1177.1 914.4L1177.4 916.9L1177.7 919.4L1177.9 921.9L1178.2 924.4L1178.4 926.9L1178.6 929.4L1178.8 931.9L1178.9 934.4L1179.1 936.9L1179.2 939.4L1179.4 941.9L1179.6 944.4L1179.8 946.9L1180.0 949.4L1180.3 951.9L1180.6 954.3L1180.9 956.8L1181.2 959.3L1181.6 961.8L1182.0 964.3L1182.4 966.7L1182.8 969.2L1183.2 971.7L1183.6 974.2L1184.0 976.6L1184.4 979.1L1184.8 981.6L1185.2 984.1L1185.6 986.5L1185.9 989.0L1186.3 991.5L1186.8 994.0L1187.2 996.4L1187.6 998.9L1188.1 1001.3L1188.6 1003.8L1189.1 1006.3L1189.6 1008.8L1190.2 1011.2L1190.7 1013.7L1191.3 1016.1L1191.9 1018.6L1192.6 1021.0L1193.3 1023.3L1194.1 1025.7L1194.9 1028.0L1195.8 1030.4L1196.8 1032.8L1197.9 1035.1L1199.0 1037.5L1200.2 1039.8L1201.4 1042.0L1202.8 1044.2L1204.1 1046.3L1205.5 1048.2L1207.0 1050.1L1208.5 1051.8L1210.2 1053.5L1212.0 1055.1L1213.9 1056.7L1215.9 1058.3L1218.0 1059.8L1220.2 1061.2L1222.4 1062.6L1224.6 1064.0L1226.9 1065.3L1229.1 1066.5L1231.4 1067.7L1233.6 1068.8L1235.8 1069.9L1238.1 1070.9L1240.3 1072.0L1242.6 1072.9L1245.0 1073.9L1247.3 1074.8L1249.7 1075.7L1252.1 1076.5L1254.5 1077.3L1256.9 1078.0L1259.3 1078.7L1261.7 1079.4L1264.1 1080.0L1266.6 1080.6L1269.0 1081.1L1271.4 1081.7L1273.9 1082.2L1276.4 1082.6L1278.8 1083.1L1281.3 1083.6L1283.8 1084.0L1286.3 1084.5L1288.7 1084.9L1291.2 1085.3L1293.7 1085.8L1296.1 1086.2L1298.6 1086.6L1301.1 1087.0L1303.5 1087.4L1306.0 1087.7L1308.5 1088.1L1311.0 1088.5L1313.5 1088.9L1315.9 1089.3L1318.4 1089.6L1320.9 1090.0L1323.4 1090.4L1325.8 1090.9L1328.3 1091.3L1330.8 1091.7L1333.3 1092.1L1335.7 1092.4L1338.2 1092.8L1340.7 1093.1L1343.2 1093.4L1345.7 1093.7L1348.2 1093.9L1350.6 1094.1L1353.1 1094.3L1355.6 1094.5L1358.1 1094.7L1360.6 1094.8L1363.1 1095.0L1365.6 1095.2L1368.1 1095.3L1370.6 1095.5L1373.1 1095.7L1375.6 1095.9L1378.1 1096.1L1380.6 1096.2L1383.1 1096.4L1385.6 1096.6L1388.1 1096.8L1390.6 1096.9L1393.1 1097.1L1395.6 1097.3L1398.1 1097.5L1400.6 1097.7L1403.1 1097.8L1405.6 1098.0L1408.1 1098.2L1410.6 1098.4L1413.1 1098.6L1415.6 1098.8L1418.1 1099.0L1420.6 1099.2L1423.1 1099.3L1425.6 1099.5L1428.1 1099.7L1430.6 1099.9L1433.1 1100.1L1435.6 1100.3L1438.1 1100.5L1440.6 1100.7L1443.1 1100.9L1445.6 1101.1L1448.1 1101.3L1450.6 1101.5L1453.1 1101.6L1455.6 1101.7L1458.1 1101.8L1460.6 1101.9L1463.1 1102.0L1465.6 1102.1L1468.1 1102.2L1470.6 1102.2L1473.1 1102.3L1475.6 1102.4L1478.1 1102.5L1480.6 1102.5L1483.1 1102.6L1485.6 1102.7L1488.1 1102.8L1490.6 1102.9L1493.1 1103.0L1495.6 1103.1L1498.1 1103.2L1500.7 1103.3L1503.2 1103.4L1505.7 1103.4L1508.2 1103.5L1510.7 1103.5L1513.2 1103.5L1515.7 1103.6L1518.2 1103.6L1520.7 1103.6L1523.2 1103.6L1525.7 1103.6L1528.2 1103.6L1530.7 1103.6L1533.2 1103.7L1535.7 1103.7L1538.2 1103.7L1540.7 1103.8L1543.2 1103.8L1545.7 1103.9L1548.2 1103.9L1550.7 1104.0L1553.2 1104.0L1555.7 1104.1L1558.3 1104.2L1560.8 1104.3L1563.3 1104.3L1565.8 1104.4L1568.3 1104.5L1570.8 1104.6L1573.3 1104.8L1575.8 1104.9L1578.3 1105.0L1580.8 1105.2L1583.3 1105.3L1585.8 1105.4L1588.3 1105.5L1590.8 1105.5L1593.3 1105.5L1595.8 1105.5L1598.3 1105.5L1600.8 1105.5L1603.3 1105.5L1605.8 1105.5L1608.3 1105.5L1610.8 1105.5L1613.3 1105.5L1615.8 1105.5L1618.3 1105.5L1620.9 1105.5L1623.4 1105.5L1625.9 1105.5L1628.4 1105.5L1630.9 1105.5L1633.4 1105.5L1635.9 1105.5L1638.4 1105.5L1640.9 1105.5L1643.4 1105.5L1645.9 1105.5L1648.4 1105.5L1650.9 1105.5L1653.4 1105.6L1655.9 1105.7L1658.4 1105.8L1660.9 1105.9L1663.4 1106.0L1665.9 1106.1L1668.4 1106.2L1670.9 1106.3L1673.4 1106.4L1675.9 1106.5L1678.4 1106.6L1681.0 1106.7L1683.5 1106.8L1686.0 1106.9L1688.5 1107.0L1691.0 1107.1L1693.5 1107.2L1696.0 1107.3L1698.5 1107.4L1701.0 1107.5L1703.5 1107.6L1706.0 1107.7L1708.5 1107.8L1711.0 1107.9L1713.5 1107.9L1716.0 1108.0L1718.5 1108.1L1721.0 1108.2L1723.5 1108.2L1726.0 1108.3L1728.5 1108.3L1731.0 1108.3L1733.5 1108.3L1736.0 1108.3L1738.5 1108.3L1741.0 1108.3L1743.5 1108.3L1746.1 1108.3L1748.6 1108.3L1751.1 1108.3L1753.6 1108.3L1756.1 1108.3L1758.6 1108.3L1761.1 1108.4L1763.6 1108.4L1766.1 1108.5L1768.6 1108.6L1771.1 1108.7L1773.6 1108.9L1776.1 1109.0L1778.6 1109.1L1781.1 1109.1L1783.6 1109.2L1786.1 1109.2L1788.6 1109.2L1791.1 1109.3L1793.6 1109.3L1796.1 1109.3L1798.6 1109.3L1801.1 1109.3L1803.6 1109.3L1806.2 1109.4L1808.7 1109.4L1811.2 1109.4L1813.7 1109.4L1816.2 1109.5L1818.7 1109.6L1821.2 1109.6L1823.7 1109.7L1826.2 1109.8L1828.7 1109.9L1831.2 1110.0L1833.7 1110.1L1836.2 1110.2L1838.7 1110.3L1841.2 1110.4L1843.7 1110.5L1846.2 1110.6L1848.7 1110.8L1851.2 1110.9L1853.7 1111.0L1856.2 1111.1L1858.7 1111.2L1861.2 1111.3L1863.7 1111.4L1866.2 1111.4L1868.7 1111.4L1871.2 1111.4L1873.7 1111.4L1876.3 1111.4L1878.8 1111.4L1881.3 1111.4L1883.8 1111.4L1886.3 1111.4L1888.8 1111.4L1891.3 1111.4L1893.8 1111.4L1896.3 1111.4L1898.8 1111.4L1901.3 1111.4L1903.8 1111.4L1906.3 1111.4L1908.8 1111.4L1911.3 1111.4L1913.8 1111.4L1916.3 1111.4L1918.8 1111.4L1921.3 1111.4L1923.9 1111.4L1926.4 1111.4L1928.9 1111.4L1931.4 1111.4L1933.9 1111.4L1936.4 1111.4L1938.9 1111.4L1941.4 1111.4L1943.9 1111.4L1946.4 1111.4L1948.9 1111.4L1951.4 1111.4L1953.9 1111.4L1956.4 1111.4L1958.9 1111.4L1961.4 1111.4L1963.9 1111.4L1966.4 1111.4L1968.9 1111.4L1971.4 1111.4L1973.9 1111.4L1976.5 1111.4L1979.0 1111.4L1981.5 1111.5L1984.0 1111.5L1986.5 1111.6L1989.0 1111.7L1991.5 1111.8L1994.0 1111.9L1996.5 1112.0L1999.0 1112.1L2001.5 1112.2L2004.0 1112.3L2006.5 1112.4L2009.0 1112.5" stroke="#000" stroke-width="2.8"/></g>
<g fill="#000">
<use href="#st" x="298.0" y="164.5"/>
<use href="#st" x="434.6" y="225.1"/>
<use href="#st" x="571.0" y="281.4"/>
<use href="#st" x="706.6" y="289.3"/>
<use href="#st" x="844.0" y="291.3"/>
<use href="#st" x="979.9" y="294.3"/>
<use href="#st" x="1116.8" y="340.5"/>
<use href="#st" x="1154.9" y="465.2"/>
<use href="#st" x="1175.9" y="589.7"/>
<use href="#st" x="1281.0" y="713.1"/>
<use href="#st" x="1417.1" y="773.9"/>
<use href="#st" x="1554.1" y="810.3"/>
<use href="#st" x="1690.0" y="838.3"/>
<use href="#st" x="1826.9" y="858.3"/>
<use href="#st" x="1963.0" y="871.3"/>
<use href="#st" x="297.8" y="1105.4"/>
<use href="#st" x="325.0" y="1103.3"/>
<use href="#st" x="353.1" y="1096.2"/>
<use href="#st" x="381.1" y="1087.5"/>
<use href="#st" x="408.0" y="1082.1"/>
<use href="#st" x="434.8" y="1082.1"/>
<use href="#st" x="462.7" y="1085.1"/>
<use href="#st" x="490.1" y="1091.2"/>
<use href="#st" x="518.1" y="1098.3"/>
<use href="#st" x="545.0" y="1104.1"/>
<use href="#st" x="573.0" y="1108.4"/>
<use href="#st" x="600.9" y="1111.4"/>
<use href="#st" x="628.1" y="1113.5"/>
<use href="#st" x="655.6" y="1114.7"/>
<use href="#st" x="683.0" y="1115.0"/>
<use href="#st" x="711.8" y="1115.0"/>
<use href="#st" x="739.1" y="1115.0"/>
<use href="#st" x="765.9" y="1115.0"/>
<use href="#st" x="793.9" y="1115.0"/>
<use href="#st" x="821.8" y="1115.0"/>
<use href="#st" x="850.0" y="1115.0"/>
<use href="#st" x="876.9" y="1115.0"/>
<use href="#st" x="905.7" y="1115.0"/>
<use href="#st" x="933.0" y="1115.0"/>
<use href="#st" x="959.6" y="1114.8"/>
<use href="#st" x="987.7" y="1113.5"/>
<use href="#st" x="1015.7" y="1111.4"/>
<use href="#st" x="1043.7" y="1108.2"/>
<use href="#st" x="1071.0" y="1098.3"/>
<use href="#st" x="1098.8" y="1074.2"/>
<use href="#st" x="1112.0" y="1048.3"/>
<use href="#st" x="1121.0" y="1024.3"/>
<use href="#st" x="1127.8" y="999.6"/>
<use href="#st" x="1132.3" y="973.4"/>
<use href="#st" x="1137.0" y="947.5"/>
<use href="#st" x="1140.9" y="918.5"/>
<use href="#st" x="1145.0" y="893.5"/>
<use href="#st" x="1148.1" y="867.4"/>
<use href="#st" x="1151.0" y="842.4"/>
<use href="#st" x="1154.8" y="816.7"/>
<use href="#st" x="1165.0" y="816.5"/>
<use href="#st" x="1169.0" y="844.4"/>
<use href="#st" x="1172.0" y="871.5"/>
<use href="#st" x="1175.1" y="898.5"/>
<use href="#st" x="1178.1" y="923.5"/>
<use href="#st" x="1180.1" y="950.3"/>
<use href="#st" x="1183.9" y="975.8"/>
<use href="#st" x="1187.9" y="1000.2"/>
<use href="#st" x="1194.0" y="1025.4"/>
<use href="#st" x="1207.1" y="1050.2"/>
<use href="#st" x="1234.8" y="1069.4"/>
<use href="#st" x="1261.8" y="1079.4"/>
<use href="#st" x="1289.9" y="1085.1"/>
<use href="#st" x="1316.9" y="1089.4"/>
<use href="#st" x="1344.9" y="1093.6"/>
<use href="#st" x="1371.9" y="1095.6"/>
<use href="#st" x="1399.8" y="1097.6"/>
<use href="#st" x="1427.9" y="1099.7"/>
<use href="#st" x="1455.0" y="1101.7"/>
<use href="#st" x="1482.9" y="1102.6"/>
<use href="#st" x="1509.7" y="1103.5"/>
<use href="#st" x="1537.0" y="1103.7"/>
<use href="#st" x="1565.0" y="1104.4"/>
<use href="#st" x="1592.0" y="1105.5"/>
<use href="#st" x="1619.8" y="1105.5"/>
<use href="#st" x="1646.8" y="1105.5"/>
<use href="#st" x="1673.8" y="1106.4"/>
<use href="#st" x="1701.7" y="1107.5"/>
<use href="#st" x="1729.0" y="1108.3"/>
<use href="#st" x="1756.9" y="1108.3"/>
<use href="#st" x="1783.9" y="1109.2"/>
<use href="#st" x="1810.9" y="1109.4"/>
<use href="#st" x="1838.8" y="1110.3"/>
<use href="#st" x="1866.9" y="1111.4"/>
<use href="#st" x="1893.9" y="1111.4"/>
<use href="#st" x="1922.1" y="1111.4"/>
<use href="#st" x="1949.1" y="1111.4"/>
<use href="#st" x="1976.1" y="1111.4"/>
<use href="#st" x="2003.1" y="1112.3"/>
</g>
<g stroke="#000" fill="none" shape-rendering="crispEdges">
<line x1="216.5" y1="60" x2="216.5" y2="1306.8" stroke-width="3"/>
<line x1="2035" y1="60" x2="2035" y2="1306.8" stroke-width="4"/>
<line x1="200" y1="61.5" x2="2052.9" y2="61.5" stroke-width="3"/>
<line x1="200" y1="1291.5" x2="2052.9" y2="1291.5" stroke-width="3"/>
<line x1="209" y1="1240.2" x2="216.5" y2="1240.2" stroke-width="3"/>
<line x1="200" y1="1189.0" x2="216.5" y2="1189.0" stroke-width="3"/>
<line x1="209" y1="1137.8" x2="216.5" y2="1137.8" stroke-width="3"/>
<line x1="200" y1="1086.5" x2="216.5" y2="1086.5" stroke-width="3"/>
<line x1="209" y1="1035.2" x2="216.5" y2="1035.2" stroke-width="3"/>
<line x1="200" y1="984.0" x2="216.5" y2="984.0" stroke-width="3"/>
<line x1="209" y1="932.8" x2="216.5" y2="932.8" stroke-width="3"/>
<line x1="200" y1="881.5" x2="216.5" y2="881.5" stroke-width="3"/>
<line x1="209" y1="830.2" x2="216.5" y2="830.2" stroke-width="3"/>
<line x1="200" y1="779.0" x2="216.5" y2="779.0" stroke-width="3"/>
<line x1="209" y1="727.8" x2="216.5" y2="727.8" stroke-width="3"/>
<line x1="200" y1="676.5" x2="216.5" y2="676.5" stroke-width="3"/>
<line x1="209" y1="625.2" x2="216.5" y2="625.2" stroke-width="3"/>
<line x1="200" y1="574.0" x2="216.5" y2="574.0" stroke-width="3"/>
<line x1="209" y1="522.8" x2="216.5" y2="522.8" stroke-width="3"/>
<line x1="200" y1="471.5" x2="216.5" y2="471.5" stroke-width="3"/>
<line x1="209" y1="420.2" x2="216.5" y2="420.2" stroke-width="3"/>
<line x1="200" y1="369.0" x2="216.5" y2="369.0" stroke-width="3"/>
<line x1="209" y1="317.8" x2="216.5" y2="317.8" stroke-width="3"/>
<line x1="200" y1="266.5" x2="216.5" y2="266.5" stroke-width="3"/>
<line x1="209" y1="215.2" x2="216.5" y2="215.2" stroke-width="3"/>
<line x1="200" y1="164.0" x2="216.5" y2="164.0" stroke-width="3"/>
<line x1="209" y1="112.8" x2="216.5" y2="112.8" stroke-width="3"/>
<line x1="2035" y1="1115.8" x2="2052.9" y2="1115.8" stroke-width="3"/>
<line x1="2035" y1="940.1" x2="2052.9" y2="940.1" stroke-width="3"/>
<line x1="2035" y1="764.4" x2="2052.9" y2="764.4" stroke-width="3"/>
<line x1="2035" y1="588.6" x2="2052.9" y2="588.6" stroke-width="3"/>
<line x1="2035" y1="412.9" x2="2052.9" y2="412.9" stroke-width="3"/>
<line x1="2035" y1="237.2" x2="2052.9" y2="237.2" stroke-width="3"/>
<line x1="292.3" y1="1291.5" x2="292.3" y2="1299.8" stroke-width="3"/>
<line x1="368.0" y1="1291.5" x2="368.0" y2="1299.8" stroke-width="3"/>
<line x1="443.8" y1="1291.5" x2="443.8" y2="1299.8" stroke-width="3"/>
<line x1="519.6" y1="1291.5" x2="519.6" y2="1306.8" stroke-width="3"/>
<line x1="595.4" y1="1291.5" x2="595.4" y2="1299.8" stroke-width="3"/>
<line x1="671.1" y1="1291.5" x2="671.1" y2="1299.8" stroke-width="3"/>
<line x1="746.9" y1="1291.5" x2="746.9" y2="1299.8" stroke-width="3"/>
<line x1="822.7" y1="1291.5" x2="822.7" y2="1306.8" stroke-width="3"/>
<line x1="898.4" y1="1291.5" x2="898.4" y2="1299.8" stroke-width="3"/>
<line x1="974.2" y1="1291.5" x2="974.2" y2="1299.8" stroke-width="3"/>
<line x1="1050.0" y1="1291.5" x2="1050.0" y2="1299.8" stroke-width="3"/>
<line x1="1125.8" y1="1291.5" x2="1125.8" y2="1306.8" stroke-width="3"/>
<line x1="1201.5" y1="1291.5" x2="1201.5" y2="1299.8" stroke-width="3"/>
<line x1="1277.3" y1="1291.5" x2="1277.3" y2="1299.8" stroke-width="3"/>
<line x1="1353.1" y1="1291.5" x2="1353.1" y2="1299.8" stroke-width="3"/>
<line x1="1428.8" y1="1291.5" x2="1428.8" y2="1306.8" stroke-width="3"/>
<line x1="1504.6" y1="1291.5" x2="1504.6" y2="1299.8" stroke-width="3"/>
<line x1="1580.4" y1="1291.5" x2="1580.4" y2="1299.8" stroke-width="3"/>
<line x1="1656.1" y1="1291.5" x2="1656.1" y2="1299.8" stroke-width="3"/>
<line x1="1731.9" y1="1291.5" x2="1731.9" y2="1306.8" stroke-width="3"/>
<line x1="1807.7" y1="1291.5" x2="1807.7" y2="1299.8" stroke-width="3"/>
<line x1="1883.5" y1="1291.5" x2="1883.5" y2="1299.8" stroke-width="3"/>
<line x1="1959.2" y1="1291.5" x2="1959.2" y2="1299.8" stroke-width="3"/>
</g>
<g class="tk">
<text x="194.4" y="1305.7" text-anchor="end">-10</text>
<text x="194.4" y="1203.2" text-anchor="end">0</text>
<text x="194.4" y="1100.7" text-anchor="end">10</text>
<text x="194.4" y="998.2" text-anchor="end">20</text>
<text x="194.4" y="895.7" text-anchor="end">30</text>
<text x="194.4" y="793.2" text-anchor="end">40</text>
<text x="194.4" y="690.7" text-anchor="end">50</text>
<text x="194.4" y="588.2" text-anchor="end">60</text>
<text x="194.4" y="485.7" text-anchor="end">70</text>
<text x="194.4" y="383.2" text-anchor="end">80</text>
<text x="194.4" y="280.7" text-anchor="end">90</text>
<text x="194.4" y="178.2" text-anchor="end">100</text>
<text x="194.4" y="75.7" text-anchor="end">110</text>
<text x="2061.3" y="1305.7">-1</text>
<text x="2061.3" y="1130.0">0</text>
<text x="2061.3" y="954.3">1</text>
<text x="2061.3" y="778.6">2</text>
<text x="2061.3" y="602.8">3</text>
<text x="2061.3" y="427.1">4</text>
<text x="2061.3" y="251.4">5</text>
<text x="2061.3" y="75.7">6</text>
<text x="217.1" y="1342.4" text-anchor="middle">0</text>
<text x="520.2" y="1342.4" text-anchor="middle">100</text>
<text x="823.3" y="1342.4" text-anchor="middle">200</text>
<text x="1126.3" y="1342.4" text-anchor="middle">300</text>
<text x="1429.4" y="1342.4" text-anchor="middle">400</text>
<text x="1732.5" y="1342.4" text-anchor="middle">500</text>
<text x="2035.6" y="1342.4" text-anchor="middle">600</text>
</g>
<text class="ti" x="1129.8" y="1414.4" text-anchor="middle" style="font-size:57.5px">Temperature (°C)</text>
<text class="ti" transform="translate(94.3 677.2) rotate(-90)" text-anchor="middle">Weight (%)</text>
<text class="ti" transform="translate(2164.5 674.6) rotate(-90)" text-anchor="middle">Deriv. Weight (%/°C)</text>
<g stroke="#000" fill="none" shape-rendering="crispEdges">
<rect x="1321" y="124.5" width="581" height="126.8" stroke-width="3.5" fill="#fff"/>
</g>
<line x1="1341" y1="167" x2="1522" y2="167" stroke="#f00" stroke-width="4.2"/>
<circle cx="1358.9" cy="162.4" r="13.8" fill="#f00"/>
<line x1="1341" y1="218" x2="1522" y2="218" stroke="#000" stroke-width="4"/>
<path transform="translate(1362.5 213.1)" d="M0-17.2Q2-6.6 4.7-4.6Q8-2.6 16.8 0Q8 2.6 4.7 4.6Q2 6.6 0 17.2Q-2 6.6-4.7 4.6Q-8 2.6-16.8 0Q-8-2.6-4.7-4.6Q-2-6.6 0-17.2Z" fill="#000"/>
<text class="lg" x="1556.2" y="179.5" style="fill:#f00;stroke:#f00">Chitin (CsE)</text>
<text class="lg" x="1563.2" y="230">Chitosan (CsU)</text>
</svg></body></html>
